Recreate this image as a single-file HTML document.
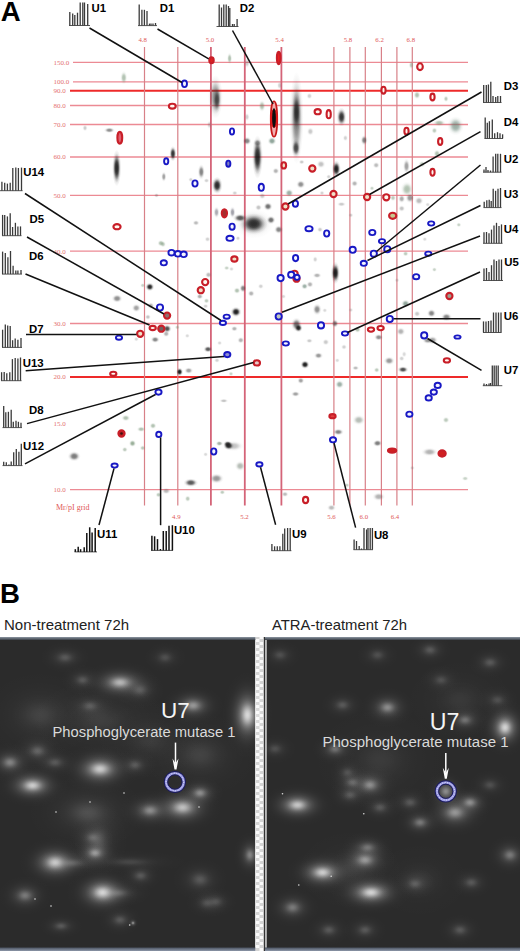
<!DOCTYPE html><html><head><meta charset="utf-8"><style>
html,body{margin:0;padding:0;background:#fff;}body{width:520px;height:951px;overflow:hidden;position:relative;font-family:"Liberation Sans",sans-serif;}
svg{position:absolute;left:0;top:0;}
</style></head><body>
<svg width="520" height="951" viewBox="0 0 520 951">
<defs>
<filter id="b1" x="-100%" y="-100%" width="300%" height="300%"><feGaussianBlur stdDeviation="0.7"/></filter>
<filter id="bh" x="-100%" y="-100%" width="300%" height="300%"><feGaussianBlur stdDeviation="1.6"/></filter>
<filter id="b2" x="-100%" y="-100%" width="300%" height="300%"><feGaussianBlur stdDeviation="3"/></filter>
<filter id="b3" x="-100%" y="-100%" width="300%" height="300%"><feGaussianBlur stdDeviation="6"/></filter>
<pattern id="chk" width="8" height="6" patternUnits="userSpaceOnUse" x="255.5" y="0"><rect width="8" height="6" fill="#fafafa"/><rect x="0" y="0" width="4" height="3" fill="#d4d4d4"/><rect x="4" y="3" width="4" height="3" fill="#d4d4d4"/></pattern>
</defs>
<text x="0.8" y="21.2" font-family="Liberation Sans" font-weight="bold" font-size="27.6" fill="#000">A</text>
<g font-family="Liberation Sans"><line x1="73" y1="62.3" x2="468" y2="62.3" stroke="#ec8a94" stroke-width="1.3"/><text x="53.6" y="64.7" font-size="7" font-family="Liberation Serif" fill="#e47070">150.0</text><line x1="73" y1="81.8" x2="468" y2="81.8" stroke="#ec8a94" stroke-width="1.3"/><text x="53.6" y="84.2" font-size="7" font-family="Liberation Serif" fill="#e47070">100.0</text><line x1="70" y1="90.8" x2="468" y2="90.8" stroke="#ee2a2a" stroke-width="2"/><text x="53.6" y="93.2" font-size="7" font-family="Liberation Serif" fill="#e47070">90.0</text><line x1="70" y1="105.5" x2="468" y2="105.5" stroke="#ec8a94" stroke-width="1.3"/><text x="53.6" y="107.9" font-size="7" font-family="Liberation Serif" fill="#e47070">80.0</text><line x1="70" y1="124.5" x2="468" y2="124.5" stroke="#ec8a94" stroke-width="1.3"/><text x="53.6" y="126.9" font-size="7" font-family="Liberation Serif" fill="#e47070">70.0</text><line x1="70" y1="157.0" x2="468" y2="157.0" stroke="#ec8a94" stroke-width="1.3"/><text x="53.6" y="159.4" font-size="7" font-family="Liberation Serif" fill="#e47070">60.0</text><line x1="70" y1="195.4" x2="468" y2="195.4" stroke="#ec8a94" stroke-width="1.3"/><text x="53.6" y="197.8" font-size="7" font-family="Liberation Serif" fill="#e47070">50.0</text><line x1="70" y1="251.2" x2="468" y2="251.2" stroke="#ec8a94" stroke-width="1.3"/><text x="53.6" y="253.6" font-size="7" font-family="Liberation Serif" fill="#e47070">40.0</text><line x1="70" y1="323.5" x2="468" y2="323.5" stroke="#ec8a94" stroke-width="1.3"/><text x="53.6" y="325.9" font-size="7" font-family="Liberation Serif" fill="#e47070">30.0</text><line x1="70" y1="377.0" x2="468" y2="377.0" stroke="#ee2a2a" stroke-width="2"/><text x="53.6" y="379.4" font-size="7" font-family="Liberation Serif" fill="#e47070">20.0</text><line x1="70" y1="489.6" x2="468" y2="489.6" stroke="#ec8a94" stroke-width="1.3"/><text x="53.6" y="492.0" font-size="7" font-family="Liberation Serif" fill="#e47070">10.0</text><line x1="144.5" y1="47" x2="144.5" y2="505.5" stroke="#d88088" stroke-width="1.2"/><line x1="177.8" y1="47" x2="177.8" y2="505.5" stroke="#d88088" stroke-width="1.2"/><line x1="210.9" y1="47" x2="210.9" y2="505.5" stroke="#d46478" stroke-width="1.8"/><line x1="244.8" y1="47" x2="244.8" y2="505.5" stroke="#d46478" stroke-width="1.8"/><line x1="281.4" y1="47" x2="281.4" y2="505.5" stroke="#d46478" stroke-width="1.8"/><line x1="333.9" y1="47" x2="333.9" y2="505.5" stroke="#d88088" stroke-width="1.2"/><line x1="349.9" y1="47" x2="349.9" y2="505.5" stroke="#d88088" stroke-width="1.2"/><line x1="365.3" y1="47" x2="365.3" y2="505.5" stroke="#d88088" stroke-width="1.2"/><line x1="381.4" y1="47" x2="381.4" y2="505.5" stroke="#d88088" stroke-width="1.2"/><line x1="396.9" y1="47" x2="396.9" y2="505.5" stroke="#d88088" stroke-width="1.2"/><line x1="412.3" y1="47" x2="412.3" y2="505.5" stroke="#d88088" stroke-width="1.2"/><text x="142.7" y="41.8" text-anchor="middle" font-size="6.8" font-family="Liberation Serif" fill="#e05858">4.8</text><text x="210" y="41.8" text-anchor="middle" font-size="6.8" font-family="Liberation Serif" fill="#e05858">5.0</text><text x="279.6" y="41.8" text-anchor="middle" font-size="6.8" font-family="Liberation Serif" fill="#e05858">5.4</text><text x="348" y="41.8" text-anchor="middle" font-size="6.8" font-family="Liberation Serif" fill="#e05858">5.8</text><text x="379.6" y="41.8" text-anchor="middle" font-size="6.8" font-family="Liberation Serif" fill="#e05858">6.2</text><text x="410.8" y="41.8" text-anchor="middle" font-size="6.8" font-family="Liberation Serif" fill="#e05858">6.8</text><text x="176.3" y="519.4" text-anchor="middle" font-size="6.8" font-family="Liberation Serif" fill="#e05858">4.9</text><text x="244.5" y="519.4" text-anchor="middle" font-size="6.8" font-family="Liberation Serif" fill="#e05858">5.2</text><text x="331.5" y="519.4" text-anchor="middle" font-size="6.8" font-family="Liberation Serif" fill="#e05858">5.6</text><text x="363.8" y="519.4" text-anchor="middle" font-size="6.8" font-family="Liberation Serif" fill="#e05858">6.0</text><text x="395" y="519.4" text-anchor="middle" font-size="6.8" font-family="Liberation Serif" fill="#e05858">6.4</text><text x="53.6" y="425.9" font-size="7" font-family="Liberation Serif" fill="#e47070">15.0</text><text x="56" y="510" font-size="8" font-family="Liberation Serif" fill="#e05858">Mr/pI grid</text></g>
<defs><radialGradient id="sg0"><stop offset="0.00" stop-color="#111" stop-opacity="1"/><stop offset="0.20" stop-color="#111" stop-opacity="0.97"/><stop offset="0.35" stop-color="#111" stop-opacity="0.86"/><stop offset="0.50" stop-color="#111" stop-opacity="0.58"/><stop offset="0.65" stop-color="#111" stop-opacity="0.27"/><stop offset="0.80" stop-color="#111" stop-opacity="0.09"/><stop offset="1.00" stop-color="#111" stop-opacity="0"/></radialGradient><radialGradient id="sg1"><stop offset="0.00" stop-color="#222" stop-opacity="1"/><stop offset="0.20" stop-color="#222" stop-opacity="0.97"/><stop offset="0.35" stop-color="#222" stop-opacity="0.86"/><stop offset="0.50" stop-color="#222" stop-opacity="0.58"/><stop offset="0.65" stop-color="#222" stop-opacity="0.27"/><stop offset="0.80" stop-color="#222" stop-opacity="0.09"/><stop offset="1.00" stop-color="#222" stop-opacity="0"/></radialGradient><radialGradient id="sg2"><stop offset="0.00" stop-color="#333" stop-opacity="1"/><stop offset="0.20" stop-color="#333" stop-opacity="0.97"/><stop offset="0.35" stop-color="#333" stop-opacity="0.86"/><stop offset="0.50" stop-color="#333" stop-opacity="0.58"/><stop offset="0.65" stop-color="#333" stop-opacity="0.27"/><stop offset="0.80" stop-color="#333" stop-opacity="0.09"/><stop offset="1.00" stop-color="#333" stop-opacity="0"/></radialGradient><radialGradient id="sg3"><stop offset="0.00" stop-color="#444" stop-opacity="1"/><stop offset="0.20" stop-color="#444" stop-opacity="0.97"/><stop offset="0.35" stop-color="#444" stop-opacity="0.86"/><stop offset="0.50" stop-color="#444" stop-opacity="0.58"/><stop offset="0.65" stop-color="#444" stop-opacity="0.27"/><stop offset="0.80" stop-color="#444" stop-opacity="0.09"/><stop offset="1.00" stop-color="#444" stop-opacity="0"/></radialGradient><radialGradient id="sg4"><stop offset="0.00" stop-color="#445" stop-opacity="1"/><stop offset="0.20" stop-color="#445" stop-opacity="0.97"/><stop offset="0.35" stop-color="#445" stop-opacity="0.86"/><stop offset="0.50" stop-color="#445" stop-opacity="0.58"/><stop offset="0.65" stop-color="#445" stop-opacity="0.27"/><stop offset="0.80" stop-color="#445" stop-opacity="0.09"/><stop offset="1.00" stop-color="#445" stop-opacity="0"/></radialGradient><radialGradient id="sg5"><stop offset="0.00" stop-color="#555" stop-opacity="1"/><stop offset="0.20" stop-color="#555" stop-opacity="0.97"/><stop offset="0.35" stop-color="#555" stop-opacity="0.86"/><stop offset="0.50" stop-color="#555" stop-opacity="0.58"/><stop offset="0.65" stop-color="#555" stop-opacity="0.27"/><stop offset="0.80" stop-color="#555" stop-opacity="0.09"/><stop offset="1.00" stop-color="#555" stop-opacity="0"/></radialGradient><radialGradient id="sg6"><stop offset="0.00" stop-color="#5a6a5a" stop-opacity="1"/><stop offset="0.20" stop-color="#5a6a5a" stop-opacity="0.97"/><stop offset="0.35" stop-color="#5a6a5a" stop-opacity="0.86"/><stop offset="0.50" stop-color="#5a6a5a" stop-opacity="0.58"/><stop offset="0.65" stop-color="#5a6a5a" stop-opacity="0.27"/><stop offset="0.80" stop-color="#5a6a5a" stop-opacity="0.09"/><stop offset="1.00" stop-color="#5a6a5a" stop-opacity="0"/></radialGradient><radialGradient id="sg7"><stop offset="0.00" stop-color="#5a7a6a" stop-opacity="1"/><stop offset="0.20" stop-color="#5a7a6a" stop-opacity="0.97"/><stop offset="0.35" stop-color="#5a7a6a" stop-opacity="0.86"/><stop offset="0.50" stop-color="#5a7a6a" stop-opacity="0.58"/><stop offset="0.65" stop-color="#5a7a6a" stop-opacity="0.27"/><stop offset="0.80" stop-color="#5a7a6a" stop-opacity="0.09"/><stop offset="1.00" stop-color="#5a7a6a" stop-opacity="0"/></radialGradient><radialGradient id="sg8"><stop offset="0.00" stop-color="#666" stop-opacity="1"/><stop offset="0.20" stop-color="#666" stop-opacity="0.97"/><stop offset="0.35" stop-color="#666" stop-opacity="0.86"/><stop offset="0.50" stop-color="#666" stop-opacity="0.58"/><stop offset="0.65" stop-color="#666" stop-opacity="0.27"/><stop offset="0.80" stop-color="#666" stop-opacity="0.09"/><stop offset="1.00" stop-color="#666" stop-opacity="0"/></radialGradient><radialGradient id="sg9"><stop offset="0.00" stop-color="#6a8a6a" stop-opacity="1"/><stop offset="0.20" stop-color="#6a8a6a" stop-opacity="0.97"/><stop offset="0.35" stop-color="#6a8a6a" stop-opacity="0.86"/><stop offset="0.50" stop-color="#6a8a6a" stop-opacity="0.58"/><stop offset="0.65" stop-color="#6a8a6a" stop-opacity="0.27"/><stop offset="0.80" stop-color="#6a8a6a" stop-opacity="0.09"/><stop offset="1.00" stop-color="#6a8a6a" stop-opacity="0"/></radialGradient></defs>
<g><ellipse cx="123.8" cy="77.7" rx="3.6" ry="6.9" fill="url(#sg9)" opacity="0.52"/><ellipse cx="85" cy="128" rx="2.7" ry="3.4" fill="url(#sg5)" opacity="0.30"/><ellipse cx="109.4" cy="130.2" rx="5.5" ry="2.9" fill="url(#sg3)" opacity="0.60"/><ellipse cx="215.5" cy="97" rx="7.4" ry="21.8" fill="url(#sg2)" opacity="0.55"/><ellipse cx="217" cy="100" rx="4.2" ry="13.1" fill="url(#sg0)" opacity="0.60"/><ellipse cx="229.6" cy="58.5" rx="2.7" ry="6.0" fill="url(#sg9)" opacity="0.52"/><ellipse cx="247" cy="63" rx="3.1" ry="5.2" fill="url(#sg5)" opacity="0.30"/><ellipse cx="262" cy="106" rx="3.6" ry="6.0" fill="url(#sg9)" opacity="0.52"/><ellipse cx="247" cy="117" rx="2.7" ry="4.3" fill="url(#sg8)" opacity="0.30"/><ellipse cx="209.4" cy="124.8" rx="2.7" ry="4.3" fill="url(#sg8)" opacity="0.30"/><ellipse cx="247" cy="141" rx="4.6" ry="4.3" fill="url(#sg2)" opacity="0.60"/><ellipse cx="257.5" cy="143" rx="4.6" ry="4.3" fill="url(#sg2)" opacity="0.50"/><ellipse cx="296.5" cy="118" rx="7.1" ry="46.3" fill="url(#sg2)" opacity="0.60"/><ellipse cx="296.5" cy="112" rx="4.6" ry="20.1" fill="url(#sg0)" opacity="0.75"/><ellipse cx="341.5" cy="117" rx="5.0" ry="9.6" fill="url(#sg0)" opacity="0.85"/><ellipse cx="309.4" cy="96" rx="3.1" ry="3.4" fill="url(#sg8)" opacity="0.30"/><ellipse cx="310.4" cy="131.5" rx="3.6" ry="4.3" fill="url(#sg8)" opacity="0.35"/><ellipse cx="364.2" cy="140.2" rx="3.6" ry="5.2" fill="url(#sg2)" opacity="0.60"/><ellipse cx="345.4" cy="138" rx="2.7" ry="3.4" fill="url(#sg8)" opacity="0.30"/><ellipse cx="279.6" cy="85.4" rx="2.7" ry="4.3" fill="url(#sg8)" opacity="0.30"/><ellipse cx="272" cy="141" rx="4.6" ry="4.3" fill="url(#sg7)" opacity="0.68"/><ellipse cx="411.3" cy="65" rx="2.7" ry="4.3" fill="url(#sg9)" opacity="0.45"/><ellipse cx="417" cy="95" rx="3.6" ry="4.3" fill="url(#sg9)" opacity="0.52"/><ellipse cx="446" cy="98.8" rx="2.7" ry="3.4" fill="url(#sg9)" opacity="0.45"/><ellipse cx="439.2" cy="122.9" rx="6.5" ry="3.4" fill="url(#sg9)" opacity="0.52"/><ellipse cx="455.6" cy="125.8" rx="8.4" ry="9.6" fill="url(#sg7)" opacity="0.60"/><ellipse cx="434.4" cy="130.6" rx="3.1" ry="3.4" fill="url(#sg9)" opacity="0.45"/><ellipse cx="116.7" cy="168" rx="4.6" ry="18.3" fill="url(#sg0)" opacity="0.90"/><ellipse cx="163.8" cy="176.7" rx="2.7" ry="5.2" fill="url(#sg3)" opacity="0.50"/><ellipse cx="156.5" cy="195.4" rx="2.7" ry="2.5" fill="url(#sg5)" opacity="0.30"/><ellipse cx="172.9" cy="153.7" rx="3.6" ry="7.8" fill="url(#sg0)" opacity="0.85"/><ellipse cx="257.5" cy="157" rx="5.5" ry="21.8" fill="url(#sg0)" opacity="0.90"/><ellipse cx="201.3" cy="171.9" rx="3.6" ry="7.8" fill="url(#sg2)" opacity="0.60"/><ellipse cx="217.1" cy="185.4" rx="5.5" ry="8.7" fill="url(#sg0)" opacity="0.90"/><ellipse cx="206.5" cy="180.6" rx="3.1" ry="2.5" fill="url(#sg8)" opacity="0.30"/><ellipse cx="190.8" cy="179.6" rx="2.7" ry="2.5" fill="url(#sg8)" opacity="0.30"/><ellipse cx="234.8" cy="193" rx="3.1" ry="2.5" fill="url(#sg8)" opacity="0.30"/><ellipse cx="262.3" cy="196" rx="3.6" ry="3.4" fill="url(#sg8)" opacity="0.35"/><ellipse cx="216.5" cy="212.3" rx="3.1" ry="6.0" fill="url(#sg4)" opacity="0.45"/><ellipse cx="232.5" cy="212.3" rx="3.1" ry="6.0" fill="url(#sg4)" opacity="0.50"/><ellipse cx="240.2" cy="218" rx="7.4" ry="4.3" fill="url(#sg1)" opacity="0.75"/><ellipse cx="253.7" cy="223.8" rx="14.1" ry="10.4" fill="url(#sg0)" opacity="0.95"/><ellipse cx="253.7" cy="223.8" rx="19.8" ry="14.8" fill="url(#sg5)" opacity="0.30"/><ellipse cx="196" cy="222.9" rx="3.6" ry="2.9" fill="url(#sg5)" opacity="0.40"/><ellipse cx="207.5" cy="239.2" rx="3.1" ry="2.9" fill="url(#sg8)" opacity="0.30"/><ellipse cx="258.5" cy="207.5" rx="3.6" ry="3.4" fill="url(#sg5)" opacity="0.35"/><ellipse cx="268" cy="206.5" rx="4.6" ry="4.3" fill="url(#sg2)" opacity="0.70"/><ellipse cx="238" cy="238.3" rx="2.7" ry="2.5" fill="url(#sg8)" opacity="0.30"/><ellipse cx="296" cy="148" rx="4.6" ry="9.6" fill="url(#sg1)" opacity="0.80"/><ellipse cx="301.7" cy="162" rx="3.1" ry="2.5" fill="url(#sg8)" opacity="0.35"/><ellipse cx="321" cy="164.2" rx="4.6" ry="4.3" fill="url(#sg8)" opacity="0.40"/><ellipse cx="275.8" cy="171" rx="3.6" ry="3.4" fill="url(#sg5)" opacity="0.45"/><ellipse cx="300.8" cy="184.4" rx="4.6" ry="4.3" fill="url(#sg3)" opacity="0.60"/><ellipse cx="328.7" cy="176.7" rx="2.7" ry="2.5" fill="url(#sg8)" opacity="0.30"/><ellipse cx="354.6" cy="183.5" rx="3.6" ry="3.4" fill="url(#sg5)" opacity="0.45"/><ellipse cx="289.2" cy="193" rx="4.6" ry="4.3" fill="url(#sg7)" opacity="0.60"/><ellipse cx="322" cy="193" rx="2.7" ry="2.5" fill="url(#sg8)" opacity="0.30"/><ellipse cx="336.3" cy="169" rx="4.6" ry="8.7" fill="url(#sg0)" opacity="0.95"/><ellipse cx="271" cy="220" rx="4.6" ry="4.3" fill="url(#sg2)" opacity="0.70"/><ellipse cx="341.5" cy="204.2" rx="4.6" ry="2.5" fill="url(#sg8)" opacity="0.35"/><ellipse cx="350.8" cy="215.2" rx="2.7" ry="2.5" fill="url(#sg8)" opacity="0.30"/><ellipse cx="278.7" cy="229.6" rx="4.6" ry="4.3" fill="url(#sg2)" opacity="0.60"/><ellipse cx="320" cy="229.6" rx="3.1" ry="2.9" fill="url(#sg8)" opacity="0.35"/><ellipse cx="376.2" cy="165.2" rx="3.6" ry="3.4" fill="url(#sg5)" opacity="0.40"/><ellipse cx="406.5" cy="166.2" rx="3.6" ry="7.8" fill="url(#sg3)" opacity="0.50"/><ellipse cx="422" cy="164.2" rx="3.6" ry="3.4" fill="url(#sg9)" opacity="0.45"/><ellipse cx="437" cy="153.7" rx="3.6" ry="4.3" fill="url(#sg9)" opacity="0.52"/><ellipse cx="407" cy="189.2" rx="6.5" ry="7.8" fill="url(#sg9)" opacity="0.52"/><ellipse cx="401.7" cy="198.8" rx="3.6" ry="4.3" fill="url(#sg3)" opacity="0.45"/><ellipse cx="410" cy="197.9" rx="4.6" ry="5.2" fill="url(#sg2)" opacity="0.50"/><ellipse cx="419" cy="200.8" rx="4.6" ry="4.3" fill="url(#sg5)" opacity="0.40"/><ellipse cx="401.7" cy="208.5" rx="3.6" ry="3.4" fill="url(#sg5)" opacity="0.35"/><ellipse cx="393" cy="197.9" rx="3.1" ry="3.4" fill="url(#sg9)" opacity="0.45"/><ellipse cx="427.7" cy="204.6" rx="2.7" ry="2.5" fill="url(#sg8)" opacity="0.25"/><ellipse cx="458.8" cy="224.8" rx="2.7" ry="2.5" fill="url(#sg9)" opacity="0.38"/><ellipse cx="424.8" cy="239.2" rx="2.7" ry="2.5" fill="url(#sg8)" opacity="0.25"/><ellipse cx="372" cy="188.3" rx="2.7" ry="2.5" fill="url(#sg9)" opacity="0.38"/><ellipse cx="149.8" cy="286.9" rx="4.6" ry="4.3" fill="url(#sg0)" opacity="0.90"/><ellipse cx="117.1" cy="298.5" rx="5.5" ry="4.3" fill="url(#sg3)" opacity="0.60"/><ellipse cx="136.3" cy="308" rx="4.6" ry="4.3" fill="url(#sg3)" opacity="0.50"/><ellipse cx="150.8" cy="305.6" rx="3.6" ry="3.4" fill="url(#sg5)" opacity="0.45"/><ellipse cx="142.7" cy="285.4" rx="2.7" ry="2.5" fill="url(#sg9)" opacity="0.38"/><ellipse cx="147.9" cy="317" rx="3.1" ry="2.9" fill="url(#sg5)" opacity="0.35"/><ellipse cx="167.1" cy="328.7" rx="4.6" ry="4.3" fill="url(#sg1)" opacity="0.80"/><ellipse cx="155.2" cy="339.6" rx="4.6" ry="3.4" fill="url(#sg2)" opacity="0.60"/><ellipse cx="166.2" cy="333.8" rx="3.6" ry="3.4" fill="url(#sg5)" opacity="0.45"/><ellipse cx="136.3" cy="339.2" rx="2.7" ry="2.5" fill="url(#sg8)" opacity="0.25"/><ellipse cx="160.9" cy="243.2" rx="3.6" ry="3.4" fill="url(#sg9)" opacity="0.52"/><ellipse cx="163" cy="244.2" rx="3.1" ry="3.4" fill="url(#sg9)" opacity="0.45"/><ellipse cx="236" cy="311.9" rx="5.5" ry="5.2" fill="url(#sg0)" opacity="0.95"/><ellipse cx="208.5" cy="274.8" rx="3.6" ry="3.4" fill="url(#sg5)" opacity="0.40"/><ellipse cx="226.7" cy="268" rx="3.1" ry="2.5" fill="url(#sg9)" opacity="0.38"/><ellipse cx="231.5" cy="269" rx="2.7" ry="2.5" fill="url(#sg8)" opacity="0.25"/><ellipse cx="243" cy="288.3" rx="3.6" ry="4.3" fill="url(#sg2)" opacity="0.60"/><ellipse cx="237" cy="290.6" rx="3.6" ry="3.4" fill="url(#sg9)" opacity="0.52"/><ellipse cx="251.2" cy="293.5" rx="3.6" ry="3.4" fill="url(#sg5)" opacity="0.45"/><ellipse cx="260.8" cy="286.3" rx="3.1" ry="2.9" fill="url(#sg8)" opacity="0.30"/><ellipse cx="199.8" cy="296.5" rx="3.6" ry="2.9" fill="url(#sg3)" opacity="0.45"/><ellipse cx="206.5" cy="300.8" rx="3.1" ry="2.9" fill="url(#sg9)" opacity="0.45"/><ellipse cx="205.6" cy="306.2" rx="3.1" ry="2.5" fill="url(#sg8)" opacity="0.30"/><ellipse cx="234.4" cy="328.7" rx="3.6" ry="2.9" fill="url(#sg5)" opacity="0.45"/><ellipse cx="240.8" cy="340.2" rx="3.6" ry="3.4" fill="url(#sg5)" opacity="0.45"/><ellipse cx="187.3" cy="335.8" rx="2.7" ry="2.5" fill="url(#sg8)" opacity="0.25"/><ellipse cx="177.3" cy="327.3" rx="2.7" ry="2.5" fill="url(#sg9)" opacity="0.38"/><ellipse cx="219.6" cy="343" rx="2.7" ry="2.5" fill="url(#sg8)" opacity="0.25"/><ellipse cx="335.4" cy="272.9" rx="4.6" ry="11.3" fill="url(#sg0)" opacity="0.95"/><ellipse cx="315.2" cy="259.4" rx="2.7" ry="3.4" fill="url(#sg8)" opacity="0.30"/><ellipse cx="317.1" cy="275.4" rx="4.6" ry="2.9" fill="url(#sg5)" opacity="0.45"/><ellipse cx="304.6" cy="286.3" rx="3.6" ry="3.4" fill="url(#sg7)" opacity="0.60"/><ellipse cx="310" cy="284.4" rx="3.6" ry="3.4" fill="url(#sg5)" opacity="0.45"/><ellipse cx="283.5" cy="296.5" rx="2.7" ry="2.5" fill="url(#sg8)" opacity="0.25"/><ellipse cx="317.1" cy="309.4" rx="4.6" ry="6.0" fill="url(#sg3)" opacity="0.60"/><ellipse cx="324.8" cy="310.4" rx="2.7" ry="2.5" fill="url(#sg8)" opacity="0.25"/><ellipse cx="335" cy="323.5" rx="3.6" ry="4.3" fill="url(#sg2)" opacity="0.60"/><ellipse cx="350.8" cy="310" rx="2.7" ry="2.5" fill="url(#sg8)" opacity="0.25"/><ellipse cx="357.5" cy="329.6" rx="3.6" ry="3.4" fill="url(#sg9)" opacity="0.52"/><ellipse cx="309.4" cy="340.8" rx="3.6" ry="2.5" fill="url(#sg8)" opacity="0.35"/><ellipse cx="325.8" cy="342.1" rx="3.6" ry="3.4" fill="url(#sg8)" opacity="0.35"/><ellipse cx="296.5" cy="324.5" rx="5.5" ry="6.9" fill="url(#sg2)" opacity="0.70"/><ellipse cx="298.5" cy="328" rx="4.2" ry="4.3" fill="url(#sg0)" opacity="0.90"/><ellipse cx="405.6" cy="253.7" rx="3.1" ry="2.9" fill="url(#sg9)" opacity="0.45"/><ellipse cx="434.4" cy="269.6" rx="2.7" ry="2.5" fill="url(#sg9)" opacity="0.38"/><ellipse cx="397" cy="280.2" rx="2.7" ry="2.5" fill="url(#sg8)" opacity="0.25"/><ellipse cx="405.6" cy="303.7" rx="4.6" ry="4.3" fill="url(#sg7)" opacity="0.68"/><ellipse cx="417.1" cy="313.8" rx="3.6" ry="3.4" fill="url(#sg8)" opacity="0.35"/><ellipse cx="431.5" cy="313.3" rx="4.6" ry="4.3" fill="url(#sg2)" opacity="0.60"/><ellipse cx="446.5" cy="317.1" rx="5.5" ry="4.3" fill="url(#sg2)" opacity="0.60"/><ellipse cx="400.8" cy="331.5" rx="4.6" ry="4.3" fill="url(#sg5)" opacity="0.45"/><ellipse cx="378.7" cy="337.3" rx="4.6" ry="3.4" fill="url(#sg2)" opacity="0.55"/><ellipse cx="432.5" cy="340.2" rx="5.5" ry="4.3" fill="url(#sg3)" opacity="0.50"/><ellipse cx="125.8" cy="418" rx="4.6" ry="3.4" fill="url(#sg9)" opacity="0.52"/><ellipse cx="153" cy="425.8" rx="3.6" ry="3.4" fill="url(#sg9)" opacity="0.52"/><ellipse cx="141.2" cy="429.2" rx="4.6" ry="2.9" fill="url(#sg9)" opacity="0.52"/><ellipse cx="132.5" cy="443" rx="3.6" ry="3.4" fill="url(#sg9)" opacity="0.45"/><ellipse cx="208" cy="349.2" rx="4.6" ry="3.4" fill="url(#sg1)" opacity="0.75"/><ellipse cx="179.6" cy="371.9" rx="3.6" ry="4.3" fill="url(#sg0)" opacity="0.95"/><ellipse cx="188.7" cy="370.6" rx="4.6" ry="3.4" fill="url(#sg3)" opacity="0.50"/><ellipse cx="217" cy="360.4" rx="3.1" ry="2.5" fill="url(#sg8)" opacity="0.30"/><ellipse cx="223.8" cy="400.8" rx="4.6" ry="2.2" fill="url(#sg5)" opacity="0.35"/><ellipse cx="227.7" cy="444" rx="4.6" ry="3.4" fill="url(#sg0)" opacity="0.80"/><ellipse cx="219" cy="443.5" rx="3.6" ry="2.9" fill="url(#sg9)" opacity="0.45"/><ellipse cx="231" cy="373.8" rx="2.7" ry="2.5" fill="url(#sg9)" opacity="0.38"/><ellipse cx="305" cy="364.6" rx="4.6" ry="4.3" fill="url(#sg0)" opacity="0.95"/><ellipse cx="318.5" cy="355.6" rx="4.6" ry="3.4" fill="url(#sg3)" opacity="0.55"/><ellipse cx="344" cy="347" rx="3.1" ry="2.9" fill="url(#sg8)" opacity="0.30"/><ellipse cx="337.3" cy="360.4" rx="2.7" ry="2.5" fill="url(#sg8)" opacity="0.25"/><ellipse cx="355.6" cy="368" rx="3.6" ry="2.5" fill="url(#sg5)" opacity="0.40"/><ellipse cx="300.8" cy="380.6" rx="3.6" ry="3.4" fill="url(#sg3)" opacity="0.50"/><ellipse cx="339.6" cy="384.4" rx="4.6" ry="4.3" fill="url(#sg7)" opacity="0.60"/><ellipse cx="295.6" cy="394" rx="4.6" ry="2.9" fill="url(#sg3)" opacity="0.50"/><ellipse cx="358.8" cy="420" rx="6.5" ry="5.2" fill="url(#sg6)" opacity="0.45"/><ellipse cx="338.3" cy="432" rx="5.5" ry="3.4" fill="url(#sg2)" opacity="0.60"/><ellipse cx="389.2" cy="360.8" rx="5.5" ry="4.3" fill="url(#sg3)" opacity="0.55"/><ellipse cx="401.7" cy="358.5" rx="3.1" ry="2.9" fill="url(#sg8)" opacity="0.30"/><ellipse cx="404.2" cy="354.2" rx="2.7" ry="3.4" fill="url(#sg8)" opacity="0.25"/><ellipse cx="403" cy="369.6" rx="5.5" ry="3.4" fill="url(#sg1)" opacity="0.80"/><ellipse cx="376.7" cy="370" rx="3.1" ry="2.9" fill="url(#sg9)" opacity="0.45"/><ellipse cx="446" cy="420" rx="3.6" ry="3.4" fill="url(#sg9)" opacity="0.45"/><ellipse cx="377.7" cy="443" rx="4.6" ry="3.4" fill="url(#sg3)" opacity="0.45"/><ellipse cx="427.7" cy="340.5" rx="5.5" ry="3.4" fill="url(#sg2)" opacity="0.50"/><ellipse cx="74.2" cy="456.3" rx="6.5" ry="5.2" fill="url(#sg2)" opacity="0.65"/><ellipse cx="132.5" cy="443.8" rx="3.6" ry="3.4" fill="url(#sg9)" opacity="0.45"/><ellipse cx="124.8" cy="449.6" rx="3.1" ry="2.9" fill="url(#sg9)" opacity="0.45"/><ellipse cx="142.7" cy="448" rx="3.1" ry="2.9" fill="url(#sg9)" opacity="0.45"/><ellipse cx="158.5" cy="494.8" rx="3.1" ry="2.9" fill="url(#sg9)" opacity="0.45"/><ellipse cx="166.2" cy="491" rx="4.6" ry="3.4" fill="url(#sg5)" opacity="0.40"/><ellipse cx="228.7" cy="445.8" rx="5.5" ry="4.3" fill="url(#sg0)" opacity="0.95"/><ellipse cx="233.5" cy="446" rx="10.3" ry="5.2" fill="url(#sg5)" opacity="0.35"/><ellipse cx="220" cy="443.5" rx="3.6" ry="2.5" fill="url(#sg8)" opacity="0.30"/><ellipse cx="205.6" cy="454.4" rx="2.7" ry="2.5" fill="url(#sg8)" opacity="0.25"/><ellipse cx="240.2" cy="466" rx="5.5" ry="5.2" fill="url(#sg6)" opacity="0.45"/><ellipse cx="190.8" cy="482.7" rx="7.4" ry="4.3" fill="url(#sg1)" opacity="0.75"/><ellipse cx="216.5" cy="478.5" rx="7.4" ry="5.2" fill="url(#sg3)" opacity="0.55"/><ellipse cx="222.3" cy="492.3" rx="3.1" ry="2.5" fill="url(#sg9)" opacity="0.45"/><ellipse cx="187.7" cy="498.7" rx="3.1" ry="3.4" fill="url(#sg9)" opacity="0.45"/><ellipse cx="285" cy="494.2" rx="3.6" ry="2.9" fill="url(#sg5)" opacity="0.40"/><ellipse cx="331.5" cy="507.7" rx="4.6" ry="3.4" fill="url(#sg5)" opacity="0.40"/><ellipse cx="347" cy="485.2" rx="2.7" ry="2.5" fill="url(#sg9)" opacity="0.38"/><ellipse cx="429.6" cy="452" rx="8.4" ry="4.3" fill="url(#sg5)" opacity="0.45"/><ellipse cx="442.1" cy="453.5" rx="4.6" ry="4.3" fill="url(#sg3)" opacity="0.60"/><ellipse cx="377.3" cy="443.5" rx="4.6" ry="3.4" fill="url(#sg3)" opacity="0.45"/><ellipse cx="378.7" cy="496.7" rx="6.5" ry="4.3" fill="url(#sg5)" opacity="0.45"/><ellipse cx="412.3" cy="467.9" rx="2.7" ry="2.5" fill="url(#sg8)" opacity="0.25"/><ellipse cx="465.2" cy="478.5" rx="3.6" ry="2.5" fill="url(#sg9)" opacity="0.38"/></g>
<g><ellipse cx="119.8" cy="137.7" rx="2.4" ry="5.9" fill="#e06070" stroke="#c81e28" stroke-width="2.1"/><ellipse cx="211.5" cy="60.3" rx="2.2" ry="3.0" fill="#e02020" stroke="#c81e28" stroke-width="2.1"/><ellipse cx="172.3" cy="106.2" rx="3.4" ry="2.4" fill="#fff8f0" stroke="#c81e28" stroke-width="2.1"/><ellipse cx="278.7" cy="58" rx="1.8" ry="6.2" fill="#e82020" stroke="#c81e28" stroke-width="2.1"/><ellipse cx="317.7" cy="111.7" rx="3.1" ry="2.6" fill="#fff8f0" stroke="#c81e28" stroke-width="2.1"/><ellipse cx="328.7" cy="114.2" rx="2.1" ry="4.1" fill="#fff8f0" stroke="#c81e28" stroke-width="2.1"/><ellipse cx="420" cy="66.7" rx="2.8" ry="3.4" fill="#fff8f0" stroke="#c81e28" stroke-width="2.1"/><ellipse cx="383.5" cy="90.2" rx="2.1" ry="3.4" fill="#fff8f0" stroke="#c81e28" stroke-width="2.1"/><ellipse cx="432.5" cy="97" rx="2.1" ry="3.4" fill="#fff8f0" stroke="#c81e28" stroke-width="2.1"/><ellipse cx="406.5" cy="131.2" rx="2.1" ry="3.4" fill="#fff8f0" stroke="#c81e28" stroke-width="2.1"/><ellipse cx="440.2" cy="141.5" rx="2.1" ry="3.4" fill="#fff8f0" stroke="#c81e28" stroke-width="2.1"/><ellipse cx="117" cy="226.7" rx="3.6" ry="2.6" fill="#fff8f0" stroke="#c81e28" stroke-width="2.1"/><ellipse cx="224.4" cy="213.3" rx="2.6" ry="4.1" fill="#a03030" stroke="#c81e28" stroke-width="2.1"/><ellipse cx="283.8" cy="165.4" rx="2.3" ry="3.1" fill="#f0e0c8" stroke="#c81e28" stroke-width="2.1"/><ellipse cx="312.3" cy="168.5" rx="3.1" ry="3.1" fill="#f0e0c8" stroke="#c81e28" stroke-width="2.1"/><ellipse cx="333.5" cy="194" rx="3.1" ry="3.1" fill="#f0e0c8" stroke="#c81e28" stroke-width="2.1"/><ellipse cx="367.1" cy="197" rx="3.1" ry="3.1" fill="#f0e0c8" stroke="#c81e28" stroke-width="2.1"/><ellipse cx="285.4" cy="206.5" rx="3.1" ry="3.1" fill="#f0e0c8" stroke="#c81e28" stroke-width="2.1"/><ellipse cx="432.5" cy="172.3" rx="2.1" ry="3.4" fill="#fff8f0" stroke="#c81e28" stroke-width="2.1"/><ellipse cx="386.3" cy="197.3" rx="3.1" ry="3.1" fill="#fff8f0" stroke="#c81e28" stroke-width="2.1"/><ellipse cx="392.7" cy="215.8" rx="3.6" ry="3.1" fill="#c8c890" stroke="#c81e28" stroke-width="2.1"/><ellipse cx="167.1" cy="315.6" rx="3.1" ry="3.1" fill="#907070" stroke="#c81e28" stroke-width="2.1"/><ellipse cx="152.7" cy="328" rx="3.1" ry="2.1" fill="#fff8f0" stroke="#c81e28" stroke-width="2.1"/><ellipse cx="161.3" cy="328.7" rx="3.1" ry="3.1" fill="#706060" stroke="#c81e28" stroke-width="2.1"/><ellipse cx="140.2" cy="333.8" rx="3.1" ry="3.1" fill="#f0e0c8" stroke="#c81e28" stroke-width="2.1"/><ellipse cx="234.4" cy="259" rx="3.1" ry="2.6" fill="#f0e0c8" stroke="#c81e28" stroke-width="2.1"/><ellipse cx="205.2" cy="282.1" rx="3.1" ry="3.1" fill="#fff8f0" stroke="#c81e28" stroke-width="2.1"/><ellipse cx="200.8" cy="290.2" rx="3.1" ry="3.1" fill="#f0e0c8" stroke="#c81e28" stroke-width="2.1"/><ellipse cx="294.6" cy="273.8" rx="3.1" ry="3.1" fill="#fff8f0" stroke="#c81e28" stroke-width="2.1"/><ellipse cx="296.5" cy="278.7" rx="3.1" ry="3.1" fill="#a04040" stroke="#c81e28" stroke-width="2.1"/><ellipse cx="449.4" cy="296" rx="3.1" ry="3.1" fill="#a0a090" stroke="#c81e28" stroke-width="2.1"/><ellipse cx="371" cy="329.6" rx="3.1" ry="2.1" fill="#fff8f0" stroke="#c81e28" stroke-width="2.1"/><ellipse cx="380.6" cy="328.1" rx="3.1" ry="2.1" fill="#fff8f0" stroke="#c81e28" stroke-width="2.1"/><ellipse cx="113.3" cy="373.8" rx="3.1" ry="2.1" fill="#fff8f0" stroke="#c81e28" stroke-width="2.1"/><ellipse cx="121.5" cy="433.5" rx="3.1" ry="3.1" fill="#b82020" stroke="#c81e28" stroke-width="2.1"/><ellipse cx="256.9" cy="362.9" rx="3.1" ry="2.6" fill="#e8c8c8" stroke="#c81e28" stroke-width="2.1"/><ellipse cx="332.5" cy="416.2" rx="3.1" ry="2.1" fill="#e04040" stroke="#c81e28" stroke-width="2.1"/><ellipse cx="446.9" cy="360.4" rx="3.1" ry="2.1" fill="#fff8f0" stroke="#c81e28" stroke-width="2.1"/><ellipse cx="305.6" cy="500" rx="2.6" ry="3.1" fill="#fff8f0" stroke="#c81e28" stroke-width="2.1"/><ellipse cx="392.1" cy="450.6" rx="4.1" ry="2.1" fill="#d02020" stroke="#c81e28" stroke-width="2.1"/><ellipse cx="442.1" cy="453.5" rx="3.6" ry="3.1" fill="#d02020" stroke="#c81e28" stroke-width="2.1"/><ellipse cx="184.5" cy="83.8" rx="2.5" ry="3.3" fill="#f4f4ff" stroke="#1818c4" stroke-width="1.9"/><ellipse cx="232" cy="131.5" rx="2.1" ry="3.1" fill="#f4f4ff" stroke="#1818c4" stroke-width="1.9"/><ellipse cx="166.2" cy="161.3" rx="2.1" ry="3.1" fill="#f4f4ff" stroke="#1818c4" stroke-width="1.9"/><ellipse cx="228.3" cy="163.7" rx="2.1" ry="3.1" fill="#8080c0" stroke="#1818c4" stroke-width="1.9"/><ellipse cx="195" cy="183.5" rx="2.6" ry="3.1" fill="#f4f4ff" stroke="#1818c4" stroke-width="1.9"/><ellipse cx="261.3" cy="187.3" rx="2.6" ry="3.6" fill="#f4f4ff" stroke="#1818c4" stroke-width="1.9"/><ellipse cx="232.1" cy="226.7" rx="2.6" ry="3.1" fill="#f4f4ff" stroke="#1818c4" stroke-width="1.9"/><ellipse cx="230" cy="238.3" rx="3.6" ry="2.6" fill="#f4f4ff" stroke="#1818c4" stroke-width="1.9"/><ellipse cx="295.4" cy="203.7" rx="2.6" ry="3.1" fill="#f4f4ff" stroke="#1818c4" stroke-width="1.9"/><ellipse cx="309" cy="228.7" rx="3.6" ry="2.6" fill="#f4f4ff" stroke="#1818c4" stroke-width="1.9"/><ellipse cx="326.7" cy="233.5" rx="2.6" ry="3.1" fill="#f4f4ff" stroke="#1818c4" stroke-width="1.9"/><ellipse cx="431.2" cy="223.5" rx="3.1" ry="2.1" fill="#f4f4ff" stroke="#1818c4" stroke-width="1.9"/><ellipse cx="372.3" cy="232.5" rx="3.1" ry="2.6" fill="#f4f4ff" stroke="#1818c4" stroke-width="1.9"/><ellipse cx="382" cy="241.2" rx="3.1" ry="2.1" fill="#f4f4ff" stroke="#1818c4" stroke-width="1.9"/><ellipse cx="171.5" cy="252.7" rx="3.1" ry="2.8" fill="#f4f4ff" stroke="#1818c4" stroke-width="1.9"/><ellipse cx="177.9" cy="253.8" rx="3.1" ry="2.8" fill="#f4f4ff" stroke="#1818c4" stroke-width="1.9"/><ellipse cx="183.7" cy="254.3" rx="3.1" ry="2.8" fill="#f4f4ff" stroke="#1818c4" stroke-width="1.9"/><ellipse cx="163.8" cy="262.8" rx="3.1" ry="2.6" fill="#f4f4ff" stroke="#1818c4" stroke-width="1.9"/><ellipse cx="160" cy="307.5" rx="3.1" ry="3.1" fill="#f4f4ff" stroke="#1818c4" stroke-width="1.9"/><ellipse cx="119" cy="337.7" rx="3.1" ry="2.1" fill="#f4f4ff" stroke="#1818c4" stroke-width="1.9"/><ellipse cx="226.7" cy="316.7" rx="3.1" ry="2.1" fill="#f4f4ff" stroke="#1818c4" stroke-width="1.9"/><ellipse cx="222.9" cy="322.9" rx="3.1" ry="2.1" fill="#f4f4ff" stroke="#1818c4" stroke-width="1.9"/><ellipse cx="352.7" cy="249.8" rx="3.1" ry="3.1" fill="#f4f4ff" stroke="#1818c4" stroke-width="1.9"/><ellipse cx="363.8" cy="263.3" rx="3.1" ry="2.6" fill="#f4f4ff" stroke="#1818c4" stroke-width="1.9"/><ellipse cx="295.6" cy="258.1" rx="2.6" ry="3.1" fill="#f4f4ff" stroke="#1818c4" stroke-width="1.9"/><ellipse cx="280.6" cy="278.1" rx="3.1" ry="3.1" fill="#f4f4ff" stroke="#1818c4" stroke-width="1.9"/><ellipse cx="291.2" cy="274.8" rx="3.1" ry="3.1" fill="#f4f4ff" stroke="#1818c4" stroke-width="1.9"/><ellipse cx="297" cy="277.3" rx="2.6" ry="2.6" fill="#f4f4ff" stroke="#1818c4" stroke-width="1.9"/><ellipse cx="278.7" cy="316.5" rx="3.1" ry="3.1" fill="#c0c8c0" stroke="#1818c4" stroke-width="1.9"/><ellipse cx="321" cy="325.4" rx="3.1" ry="3.1" fill="#f4f4ff" stroke="#1818c4" stroke-width="1.9"/><ellipse cx="345" cy="333.5" rx="3.1" ry="2.1" fill="#f4f4ff" stroke="#1818c4" stroke-width="1.9"/><ellipse cx="285.8" cy="343.5" rx="3.1" ry="2.1" fill="#f4f4ff" stroke="#1818c4" stroke-width="1.9"/><ellipse cx="373.8" cy="253.7" rx="3.1" ry="3.1" fill="#f4f4ff" stroke="#1818c4" stroke-width="1.9"/><ellipse cx="387.3" cy="249.2" rx="3.1" ry="3.1" fill="#f4f4ff" stroke="#1818c4" stroke-width="1.9"/><ellipse cx="428.3" cy="253.7" rx="3.1" ry="2.1" fill="#f4f4ff" stroke="#1818c4" stroke-width="1.9"/><ellipse cx="416.2" cy="276.7" rx="3.1" ry="2.6" fill="#f4f4ff" stroke="#1818c4" stroke-width="1.9"/><ellipse cx="389.8" cy="319" rx="3.1" ry="3.1" fill="#f4f4ff" stroke="#1818c4" stroke-width="1.9"/><ellipse cx="424.2" cy="335.4" rx="3.1" ry="3.1" fill="#f4f4ff" stroke="#1818c4" stroke-width="1.9"/><ellipse cx="457.5" cy="337" rx="3.1" ry="1.6" fill="#f4f4ff" stroke="#1818c4" stroke-width="1.9"/><ellipse cx="158.5" cy="392.1" rx="3.1" ry="2.6" fill="#f4f4ff" stroke="#1818c4" stroke-width="1.9"/><ellipse cx="158.8" cy="434.4" rx="2.6" ry="2.6" fill="#f4f4ff" stroke="#1818c4" stroke-width="1.9"/><ellipse cx="227.3" cy="354.6" rx="3.1" ry="2.6" fill="#9090d0" stroke="#1818c4" stroke-width="1.9"/><ellipse cx="333" cy="439.8" rx="3.1" ry="2.6" fill="#f4f4ff" stroke="#1818c4" stroke-width="1.9"/><ellipse cx="437.7" cy="385.4" rx="3.1" ry="2.6" fill="#f4f4ff" stroke="#1818c4" stroke-width="1.9"/><ellipse cx="433.8" cy="392.1" rx="3.1" ry="2.6" fill="#f4f4ff" stroke="#1818c4" stroke-width="1.9"/><ellipse cx="428.7" cy="397.9" rx="3.1" ry="2.6" fill="#f4f4ff" stroke="#1818c4" stroke-width="1.9"/><ellipse cx="409.4" cy="414.2" rx="3.1" ry="2.6" fill="#f4f4ff" stroke="#1818c4" stroke-width="1.9"/><ellipse cx="114.6" cy="465.6" rx="3.1" ry="2.1" fill="#f4f4ff" stroke="#1818c4" stroke-width="1.9"/><ellipse cx="213.8" cy="451.5" rx="2.6" ry="3.1" fill="#f4f4ff" stroke="#1818c4" stroke-width="1.9"/><ellipse cx="259.4" cy="464.4" rx="3.1" ry="2.1" fill="#f4f4ff" stroke="#1818c4" stroke-width="1.9"/><circle cx="121.5" cy="433.5" r="1.3" fill="#401010"/><ellipse cx="274" cy="119" rx="3.3" ry="17.8" fill="#f0b0b0" stroke="#c81818" stroke-width="1.6"/><ellipse cx="274" cy="118.5" rx="3.9" ry="9.5" fill="#e01818"/><ellipse cx="274" cy="118" rx="1.9" ry="10" fill="#111" filter="url(#b1)"/></g>
<g><line x1="89.5" y1="28" x2="182" y2="82.5" stroke="#111" stroke-width="1.5"/><line x1="157.5" y1="29" x2="208.7" y2="58.9" stroke="#111" stroke-width="1.5"/><line x1="232.5" y1="30.5" x2="273" y2="104" stroke="#111" stroke-width="1.5"/><line x1="481.5" y1="92" x2="288" y2="204" stroke="#111" stroke-width="1.5"/><line x1="480.5" y1="131.7" x2="369.5" y2="194.5" stroke="#111" stroke-width="1.5"/><line x1="480.5" y1="165" x2="376.5" y2="251.5" stroke="#111" stroke-width="1.5"/><line x1="480.5" y1="205.5" x2="367.5" y2="260.5" stroke="#111" stroke-width="1.5"/><line x1="480" y1="236" x2="282" y2="312.3" stroke="#111" stroke-width="1.5"/><line x1="480" y1="272" x2="347.5" y2="332.5" stroke="#111" stroke-width="1.5"/><line x1="480.5" y1="318.8" x2="393.5" y2="318.8" stroke="#111" stroke-width="1.5"/><line x1="481.5" y1="370.3" x2="427.5" y2="338.5" stroke="#111" stroke-width="1.5"/><line x1="25" y1="193.5" x2="221" y2="320.5" stroke="#111" stroke-width="1.5"/><line x1="27" y1="237" x2="164" y2="314" stroke="#111" stroke-width="1.5"/><line x1="25.5" y1="274" x2="149.5" y2="325" stroke="#111" stroke-width="1.5"/><line x1="26" y1="334.4" x2="136.5" y2="334.4" stroke="#111" stroke-width="1.5"/><line x1="25.7" y1="370.7" x2="224" y2="356.5" stroke="#111" stroke-width="1.5"/><line x1="27" y1="423.6" x2="253.5" y2="362.5" stroke="#111" stroke-width="1.5"/><line x1="25" y1="463.8" x2="155.5" y2="394.5" stroke="#111" stroke-width="1.5"/><line x1="99" y1="525" x2="114" y2="468.5" stroke="#111" stroke-width="1.5"/><line x1="160.6" y1="525.2" x2="160.6" y2="437.5" stroke="#111" stroke-width="1.5"/><line x1="275.6" y1="524.7" x2="260.5" y2="467.3" stroke="#111" stroke-width="1.5"/><line x1="355.6" y1="527.6" x2="334" y2="443" stroke="#111" stroke-width="1.5"/></g>
<g font-family="Liberation Sans"><line x1="69" y1="25.5" x2="90" y2="25.5" stroke="#555" stroke-width="1"/><line x1="69.8" y1="12.1" x2="69.8" y2="25.5" stroke="#3a3a3a" stroke-width="1.3"/><line x1="72.7" y1="13.6" x2="72.7" y2="25.5" stroke="#3a3a3a" stroke-width="1.3"/><line x1="74.8" y1="15" x2="74.8" y2="25.5" stroke="#3a3a3a" stroke-width="1.3"/><line x1="77.5" y1="12.7" x2="77.5" y2="25.5" stroke="#3a3a3a" stroke-width="1.3"/><line x1="80.2" y1="2.5" x2="80.2" y2="25.5" stroke="#3a3a3a" stroke-width="1.3"/><line x1="82.8" y1="2.5" x2="82.8" y2="25.5" stroke="#3a3a3a" stroke-width="1.3"/><line x1="84.5" y1="2.5" x2="84.5" y2="25.5" stroke="#3a3a3a" stroke-width="1.3"/><line x1="87.7" y1="4" x2="87.7" y2="25.5" stroke="#3a3a3a" stroke-width="1.3"/><text x="91.6" y="12.1" font-size="11.4" font-weight="bold" fill="#000">U1</text><line x1="138" y1="25.6" x2="157" y2="25.6" stroke="#555" stroke-width="1"/><line x1="139.2" y1="4.4" x2="139.2" y2="25.6" stroke="#3a3a3a" stroke-width="1.3"/><line x1="141.9" y1="9.8" x2="141.9" y2="25.6" stroke="#3a3a3a" stroke-width="1.3"/><line x1="144.4" y1="9.8" x2="144.4" y2="25.6" stroke="#3a3a3a" stroke-width="1.3"/><line x1="147" y1="11" x2="147" y2="25.6" stroke="#3a3a3a" stroke-width="1.3"/><line x1="149.5" y1="23.6" x2="149.5" y2="25.6" stroke="#3a3a3a" stroke-width="1.3"/><line x1="151" y1="23.6" x2="151" y2="25.6" stroke="#3a3a3a" stroke-width="1.3"/><line x1="153" y1="23.4" x2="153" y2="25.6" stroke="#3a3a3a" stroke-width="1.3"/><line x1="155.5" y1="23" x2="155.5" y2="25.6" stroke="#3a3a3a" stroke-width="1.3"/><text x="159.7" y="12.1" font-size="11.4" font-weight="bold" fill="#000">D1</text><line x1="216.5" y1="26.5" x2="238.5" y2="26.5" stroke="#555" stroke-width="1"/><line x1="219.2" y1="4.6" x2="219.2" y2="26.5" stroke="#3a3a3a" stroke-width="1.3"/><line x1="221.5" y1="7.5" x2="221.5" y2="26.5" stroke="#3a3a3a" stroke-width="1.3"/><line x1="223.8" y1="4.6" x2="223.8" y2="26.5" stroke="#3a3a3a" stroke-width="1.3"/><line x1="226.2" y1="4.6" x2="226.2" y2="26.5" stroke="#3a3a3a" stroke-width="1.3"/><line x1="228.5" y1="6" x2="228.5" y2="26.5" stroke="#3a3a3a" stroke-width="1.3"/><line x1="229.8" y1="8" x2="229.8" y2="26.5" stroke="#3a3a3a" stroke-width="1.3"/><line x1="232.5" y1="24" x2="232.5" y2="26.5" stroke="#3a3a3a" stroke-width="1.3"/><line x1="234.2" y1="24" x2="234.2" y2="26.5" stroke="#3a3a3a" stroke-width="1.3"/><line x1="237.1" y1="19" x2="237.1" y2="26.5" stroke="#3a3a3a" stroke-width="1.3"/><text x="239.7" y="12.1" font-size="11.4" font-weight="bold" fill="#000">D2</text><line x1="483" y1="102.5" x2="501.5" y2="102.5" stroke="#555" stroke-width="1"/><line x1="483.7" y1="85" x2="483.7" y2="102.5" stroke="#3a3a3a" stroke-width="1.3"/><line x1="486.3" y1="85" x2="486.3" y2="102.5" stroke="#3a3a3a" stroke-width="1.3"/><line x1="488.4" y1="84.5" x2="488.4" y2="102.5" stroke="#3a3a3a" stroke-width="1.3"/><line x1="490.8" y1="81.8" x2="490.8" y2="102.5" stroke="#3a3a3a" stroke-width="1.3"/><line x1="493" y1="96" x2="493" y2="102.5" stroke="#3a3a3a" stroke-width="1.3"/><line x1="495.7" y1="97" x2="495.7" y2="102.5" stroke="#3a3a3a" stroke-width="1.3"/><line x1="497.8" y1="96" x2="497.8" y2="102.5" stroke="#3a3a3a" stroke-width="1.3"/><line x1="500.5" y1="96" x2="500.5" y2="102.5" stroke="#3a3a3a" stroke-width="1.3"/><text x="503.8" y="89.89999999999999" font-size="11.4" font-weight="bold" fill="#000">D3</text><line x1="484.5" y1="138.5" x2="503" y2="138.5" stroke="#555" stroke-width="1"/><line x1="485.2" y1="117.5" x2="485.2" y2="138.5" stroke="#3a3a3a" stroke-width="1.3"/><line x1="487.3" y1="122.8" x2="487.3" y2="138.5" stroke="#3a3a3a" stroke-width="1.3"/><line x1="489.4" y1="121.2" x2="489.4" y2="138.5" stroke="#3a3a3a" stroke-width="1.3"/><line x1="492.3" y1="119.6" x2="492.3" y2="138.5" stroke="#3a3a3a" stroke-width="1.3"/><line x1="494.7" y1="133.3" x2="494.7" y2="138.5" stroke="#3a3a3a" stroke-width="1.3"/><line x1="497.5" y1="132.2" x2="497.5" y2="138.5" stroke="#3a3a3a" stroke-width="1.3"/><line x1="500" y1="133.3" x2="500" y2="138.5" stroke="#3a3a3a" stroke-width="1.3"/><line x1="502.6" y1="134.3" x2="502.6" y2="138.5" stroke="#3a3a3a" stroke-width="1.3"/><text x="503.8" y="125.6" font-size="11.4" font-weight="bold" fill="#000">D4</text><line x1="483" y1="172.2" x2="501.5" y2="172.2" stroke="#555" stroke-width="1"/><line x1="484" y1="169.5" x2="484" y2="172.2" stroke="#3a3a3a" stroke-width="1.3"/><line x1="486" y1="167" x2="486" y2="172.2" stroke="#3a3a3a" stroke-width="1.3"/><line x1="488" y1="170" x2="488" y2="172.2" stroke="#3a3a3a" stroke-width="1.3"/><line x1="490.5" y1="170.5" x2="490.5" y2="172.2" stroke="#3a3a3a" stroke-width="1.3"/><line x1="493.1" y1="156.4" x2="493.1" y2="172.2" stroke="#3a3a3a" stroke-width="1.3"/><line x1="495.7" y1="153.8" x2="495.7" y2="172.2" stroke="#3a3a3a" stroke-width="1.3"/><line x1="497.8" y1="153.8" x2="497.8" y2="172.2" stroke="#3a3a3a" stroke-width="1.3"/><line x1="500.5" y1="153.8" x2="500.5" y2="172.2" stroke="#3a3a3a" stroke-width="1.3"/><text x="503.8" y="162.9" font-size="11.4" font-weight="bold" fill="#000">U2</text><line x1="483.5" y1="207.6" x2="501.5" y2="207.6" stroke="#555" stroke-width="1"/><line x1="484.2" y1="201.8" x2="484.2" y2="207.6" stroke="#3a3a3a" stroke-width="1.3"/><line x1="486.8" y1="200.2" x2="486.8" y2="207.6" stroke="#3a3a3a" stroke-width="1.3"/><line x1="489.2" y1="199.7" x2="489.2" y2="207.6" stroke="#3a3a3a" stroke-width="1.3"/><line x1="491.2" y1="201" x2="491.2" y2="207.6" stroke="#3a3a3a" stroke-width="1.3"/><line x1="493.2" y1="188.7" x2="493.2" y2="207.6" stroke="#3a3a3a" stroke-width="1.3"/><line x1="495.6" y1="190.8" x2="495.6" y2="207.6" stroke="#3a3a3a" stroke-width="1.3"/><line x1="498" y1="188.7" x2="498" y2="207.6" stroke="#3a3a3a" stroke-width="1.3"/><line x1="500.5" y1="188" x2="500.5" y2="207.6" stroke="#3a3a3a" stroke-width="1.3"/><text x="503.8" y="197.79999999999998" font-size="11.4" font-weight="bold" fill="#000">U3</text><line x1="483" y1="243.3" x2="502.5" y2="243.3" stroke="#555" stroke-width="1"/><line x1="484" y1="232.2" x2="484" y2="243.3" stroke="#3a3a3a" stroke-width="1.3"/><line x1="486.5" y1="232" x2="486.5" y2="243.3" stroke="#3a3a3a" stroke-width="1.3"/><line x1="489" y1="233.3" x2="489" y2="243.3" stroke="#3a3a3a" stroke-width="1.3"/><line x1="491.5" y1="229.6" x2="491.5" y2="243.3" stroke="#3a3a3a" stroke-width="1.3"/><line x1="494" y1="225.4" x2="494" y2="243.3" stroke="#3a3a3a" stroke-width="1.3"/><line x1="496.5" y1="222.8" x2="496.5" y2="243.3" stroke="#3a3a3a" stroke-width="1.3"/><line x1="499" y1="226" x2="499" y2="243.3" stroke="#3a3a3a" stroke-width="1.3"/><line x1="501.5" y1="224.4" x2="501.5" y2="243.3" stroke="#3a3a3a" stroke-width="1.3"/><text x="503.8" y="232.5" font-size="11.4" font-weight="bold" fill="#000">U4</text><line x1="483" y1="280.5" x2="503" y2="280.5" stroke="#555" stroke-width="1"/><line x1="484" y1="268.4" x2="484" y2="280.5" stroke="#3a3a3a" stroke-width="1.3"/><line x1="486.5" y1="268" x2="486.5" y2="280.5" stroke="#3a3a3a" stroke-width="1.3"/><line x1="489" y1="272" x2="489" y2="280.5" stroke="#3a3a3a" stroke-width="1.3"/><line x1="491.5" y1="265.2" x2="491.5" y2="280.5" stroke="#3a3a3a" stroke-width="1.3"/><line x1="494" y1="259.5" x2="494" y2="280.5" stroke="#3a3a3a" stroke-width="1.3"/><line x1="496.5" y1="261" x2="496.5" y2="280.5" stroke="#3a3a3a" stroke-width="1.3"/><line x1="499" y1="259.5" x2="499" y2="280.5" stroke="#3a3a3a" stroke-width="1.3"/><line x1="501.5" y1="259.5" x2="501.5" y2="280.5" stroke="#3a3a3a" stroke-width="1.3"/><text x="504.3" y="266.0" font-size="11.4" font-weight="bold" fill="#000">U5</text><line x1="483" y1="332.5" x2="501.5" y2="332.5" stroke="#555" stroke-width="1"/><line x1="483.5" y1="321.4" x2="483.5" y2="332.5" stroke="#3a3a3a" stroke-width="1.3"/><line x1="486" y1="321.4" x2="486" y2="332.5" stroke="#3a3a3a" stroke-width="1.3"/><line x1="488.5" y1="321" x2="488.5" y2="332.5" stroke="#3a3a3a" stroke-width="1.3"/><line x1="491" y1="320.4" x2="491" y2="332.5" stroke="#3a3a3a" stroke-width="1.3"/><line x1="493.5" y1="312.5" x2="493.5" y2="332.5" stroke="#3a3a3a" stroke-width="1.3"/><line x1="496" y1="312.5" x2="496" y2="332.5" stroke="#3a3a3a" stroke-width="1.3"/><line x1="498.5" y1="312.5" x2="498.5" y2="332.5" stroke="#3a3a3a" stroke-width="1.3"/><line x1="501" y1="312.5" x2="501" y2="332.5" stroke="#3a3a3a" stroke-width="1.3"/><text x="503.8" y="320.1" font-size="11.4" font-weight="bold" fill="#000">U6</text><line x1="482.8" y1="385.7" x2="502.3" y2="385.7" stroke="#555" stroke-width="1"/><line x1="484" y1="383.5" x2="484" y2="385.7" stroke="#3a3a3a" stroke-width="1.3"/><line x1="486.5" y1="384" x2="486.5" y2="385.7" stroke="#3a3a3a" stroke-width="1.3"/><line x1="489" y1="383.5" x2="489" y2="385.7" stroke="#3a3a3a" stroke-width="1.3"/><line x1="490.5" y1="383" x2="490.5" y2="385.7" stroke="#3a3a3a" stroke-width="1.3"/><line x1="492.3" y1="365.4" x2="492.3" y2="385.7" stroke="#3a3a3a" stroke-width="1.3"/><line x1="494.2" y1="365.4" x2="494.2" y2="385.7" stroke="#3a3a3a" stroke-width="1.3"/><line x1="496.2" y1="365.4" x2="496.2" y2="385.7" stroke="#3a3a3a" stroke-width="1.3"/><line x1="498.2" y1="365.4" x2="498.2" y2="385.7" stroke="#3a3a3a" stroke-width="1.3"/><text x="503.70000000000005" y="373.5" font-size="11.4" font-weight="bold" fill="#000">U7</text><line x1="0" y1="190.7" x2="22.6" y2="190.7" stroke="#555" stroke-width="1"/><line x1="1.9" y1="181.8" x2="1.9" y2="190.7" stroke="#3a3a3a" stroke-width="1.3"/><line x1="4.7" y1="182.8" x2="4.7" y2="190.7" stroke="#3a3a3a" stroke-width="1.3"/><line x1="7.4" y1="183.6" x2="7.4" y2="190.7" stroke="#3a3a3a" stroke-width="1.3"/><line x1="10.2" y1="182.8" x2="10.2" y2="190.7" stroke="#3a3a3a" stroke-width="1.3"/><line x1="12.8" y1="168.1" x2="12.8" y2="190.7" stroke="#3a3a3a" stroke-width="1.3"/><line x1="15.8" y1="167.6" x2="15.8" y2="190.7" stroke="#3a3a3a" stroke-width="1.3"/><line x1="18.4" y1="168" x2="18.4" y2="190.7" stroke="#3a3a3a" stroke-width="1.3"/><line x1="21.5" y1="167.6" x2="21.5" y2="190.7" stroke="#3a3a3a" stroke-width="1.3"/><text x="23.3" y="176.2" font-size="11.4" font-weight="bold" fill="#000">U14</text><line x1="2" y1="235.7" x2="21.5" y2="235.7" stroke="#555" stroke-width="1"/><line x1="2.6" y1="214.9" x2="2.6" y2="235.7" stroke="#3a3a3a" stroke-width="1.3"/><line x1="4.7" y1="215" x2="4.7" y2="235.7" stroke="#3a3a3a" stroke-width="1.3"/><line x1="7.4" y1="216.4" x2="7.4" y2="235.7" stroke="#3a3a3a" stroke-width="1.3"/><line x1="10.2" y1="213.3" x2="10.2" y2="235.7" stroke="#3a3a3a" stroke-width="1.3"/><line x1="12.6" y1="227" x2="12.6" y2="235.7" stroke="#3a3a3a" stroke-width="1.3"/><line x1="15.4" y1="222.8" x2="15.4" y2="235.7" stroke="#3a3a3a" stroke-width="1.3"/><line x1="17.9" y1="226.4" x2="17.9" y2="235.7" stroke="#3a3a3a" stroke-width="1.3"/><line x1="20.5" y1="226.4" x2="20.5" y2="235.7" stroke="#3a3a3a" stroke-width="1.3"/><text x="29.6" y="223.0" font-size="11.4" font-weight="bold" fill="#000">D5</text><line x1="2" y1="274.1" x2="22" y2="274.1" stroke="#555" stroke-width="1"/><line x1="2.6" y1="251.6" x2="2.6" y2="274.1" stroke="#3a3a3a" stroke-width="1.3"/><line x1="5.3" y1="253.1" x2="5.3" y2="274.1" stroke="#3a3a3a" stroke-width="1.3"/><line x1="7.9" y1="257.3" x2="7.9" y2="274.1" stroke="#3a3a3a" stroke-width="1.3"/><line x1="10.5" y1="251" x2="10.5" y2="274.1" stroke="#3a3a3a" stroke-width="1.3"/><line x1="13.1" y1="265.7" x2="13.1" y2="274.1" stroke="#3a3a3a" stroke-width="1.3"/><line x1="15.8" y1="270.5" x2="15.8" y2="274.1" stroke="#3a3a3a" stroke-width="1.3"/><line x1="17.9" y1="270.5" x2="17.9" y2="274.1" stroke="#3a3a3a" stroke-width="1.3"/><line x1="21" y1="270" x2="21" y2="274.1" stroke="#3a3a3a" stroke-width="1.3"/><text x="29.0" y="260.2" font-size="11.4" font-weight="bold" fill="#000">D6</text><line x1="2" y1="347.4" x2="22" y2="347.4" stroke="#555" stroke-width="1"/><line x1="2.6" y1="329.7" x2="2.6" y2="347.4" stroke="#3a3a3a" stroke-width="1.3"/><line x1="5.3" y1="324.5" x2="5.3" y2="347.4" stroke="#3a3a3a" stroke-width="1.3"/><line x1="7.7" y1="325.5" x2="7.7" y2="347.4" stroke="#3a3a3a" stroke-width="1.3"/><line x1="10.2" y1="326" x2="10.2" y2="347.4" stroke="#3a3a3a" stroke-width="1.3"/><line x1="12.6" y1="340.2" x2="12.6" y2="347.4" stroke="#3a3a3a" stroke-width="1.3"/><line x1="15.2" y1="338.6" x2="15.2" y2="347.4" stroke="#3a3a3a" stroke-width="1.3"/><line x1="17.9" y1="339.7" x2="17.9" y2="347.4" stroke="#3a3a3a" stroke-width="1.3"/><line x1="21" y1="338.1" x2="21" y2="347.4" stroke="#3a3a3a" stroke-width="1.3"/><text x="29.1" y="332.6" font-size="11.4" font-weight="bold" fill="#000">D7</text><line x1="1" y1="380.7" x2="21.5" y2="380.7" stroke="#555" stroke-width="1"/><line x1="1.6" y1="372.2" x2="1.6" y2="380.7" stroke="#3a3a3a" stroke-width="1.3"/><line x1="4.2" y1="372" x2="4.2" y2="380.7" stroke="#3a3a3a" stroke-width="1.3"/><line x1="6.8" y1="373.3" x2="6.8" y2="380.7" stroke="#3a3a3a" stroke-width="1.3"/><line x1="9.8" y1="372.2" x2="9.8" y2="380.7" stroke="#3a3a3a" stroke-width="1.3"/><line x1="12.4" y1="359.1" x2="12.4" y2="380.7" stroke="#3a3a3a" stroke-width="1.3"/><line x1="15.2" y1="358" x2="15.2" y2="380.7" stroke="#3a3a3a" stroke-width="1.3"/><line x1="17.9" y1="358.5" x2="17.9" y2="380.7" stroke="#3a3a3a" stroke-width="1.3"/><line x1="20.5" y1="357.5" x2="20.5" y2="380.7" stroke="#3a3a3a" stroke-width="1.3"/><text x="22.700000000000003" y="366.70000000000005" font-size="11.4" font-weight="bold" fill="#000">U13</text><line x1="2.5" y1="427.6" x2="22" y2="427.6" stroke="#555" stroke-width="1"/><line x1="3.7" y1="406" x2="3.7" y2="427.6" stroke="#3a3a3a" stroke-width="1.3"/><line x1="5.8" y1="412.3" x2="5.8" y2="427.6" stroke="#3a3a3a" stroke-width="1.3"/><line x1="8.4" y1="411.8" x2="8.4" y2="427.6" stroke="#3a3a3a" stroke-width="1.3"/><line x1="11.2" y1="409.7" x2="11.2" y2="427.6" stroke="#3a3a3a" stroke-width="1.3"/><line x1="13.3" y1="421.8" x2="13.3" y2="427.6" stroke="#3a3a3a" stroke-width="1.3"/><line x1="16" y1="420.7" x2="16" y2="427.6" stroke="#3a3a3a" stroke-width="1.3"/><line x1="18.4" y1="421.8" x2="18.4" y2="427.6" stroke="#3a3a3a" stroke-width="1.3"/><line x1="21" y1="422.8" x2="21" y2="427.6" stroke="#3a3a3a" stroke-width="1.3"/><text x="29.1" y="413.6" font-size="11.4" font-weight="bold" fill="#000">D8</text><line x1="2.5" y1="465.6" x2="22.5" y2="465.6" stroke="#555" stroke-width="1"/><line x1="3.7" y1="461.7" x2="3.7" y2="465.6" stroke="#3a3a3a" stroke-width="1.3"/><line x1="6.3" y1="462.2" x2="6.3" y2="465.6" stroke="#3a3a3a" stroke-width="1.3"/><line x1="8.9" y1="464.5" x2="8.9" y2="465.6" stroke="#3a3a3a" stroke-width="1.3"/><line x1="11.2" y1="461.4" x2="11.2" y2="465.6" stroke="#3a3a3a" stroke-width="1.3"/><line x1="13.7" y1="452.2" x2="13.7" y2="465.6" stroke="#3a3a3a" stroke-width="1.3"/><line x1="16.3" y1="449.1" x2="16.3" y2="465.6" stroke="#3a3a3a" stroke-width="1.3"/><line x1="18.9" y1="451.7" x2="18.9" y2="465.6" stroke="#3a3a3a" stroke-width="1.3"/><line x1="21.3" y1="443.8" x2="21.3" y2="465.6" stroke="#3a3a3a" stroke-width="1.3"/><text x="23.1" y="450.40000000000003" font-size="11.4" font-weight="bold" fill="#000">U12</text><line x1="74.5" y1="551.9" x2="97" y2="551.9" stroke="#555" stroke-width="1"/><line x1="75.3" y1="549.2" x2="75.3" y2="551.9" stroke="#111" stroke-width="1.5"/><line x1="78.2" y1="546.8" x2="78.2" y2="551.9" stroke="#111" stroke-width="1.5"/><line x1="80.6" y1="549.2" x2="80.6" y2="551.9" stroke="#111" stroke-width="1.5"/><line x1="84.2" y1="547.3" x2="84.2" y2="551.9" stroke="#111" stroke-width="1.5"/><line x1="86.8" y1="532.9" x2="86.8" y2="551.9" stroke="#111" stroke-width="1.5"/><line x1="89.7" y1="527.3" x2="89.7" y2="551.9" stroke="#111" stroke-width="1.5"/><line x1="92.1" y1="532.4" x2="92.1" y2="551.9" stroke="#111" stroke-width="1.5"/><line x1="95.2" y1="528" x2="95.2" y2="551.9" stroke="#111" stroke-width="1.5"/><text x="97.0" y="538.1" font-size="11.4" font-weight="bold" fill="#000">U11</text><line x1="151" y1="550.4" x2="173" y2="550.4" stroke="#555" stroke-width="1"/><line x1="151.9" y1="535.8" x2="151.9" y2="550.4" stroke="#111" stroke-width="1.5"/><line x1="154.6" y1="536.3" x2="154.6" y2="550.4" stroke="#111" stroke-width="1.5"/><line x1="157.5" y1="539.1" x2="157.5" y2="550.4" stroke="#111" stroke-width="1.5"/><line x1="160.4" y1="549" x2="160.4" y2="550.4" stroke="#111" stroke-width="1.5"/><line x1="163.3" y1="531" x2="163.3" y2="550.4" stroke="#111" stroke-width="1.5"/><line x1="166.2" y1="531" x2="166.2" y2="550.4" stroke="#111" stroke-width="1.5"/><line x1="169" y1="525.7" x2="169" y2="550.4" stroke="#111" stroke-width="1.5"/><line x1="172.4" y1="525.2" x2="172.4" y2="550.4" stroke="#111" stroke-width="1.5"/><text x="173.9" y="534.3000000000001" font-size="11.4" font-weight="bold" fill="#000">U10</text><line x1="271.3" y1="550.7" x2="291.4" y2="550.7" stroke="#555" stroke-width="1"/><line x1="271.9" y1="544" x2="271.9" y2="550.7" stroke="#3a3a3a" stroke-width="1.3"/><line x1="274.6" y1="546.3" x2="274.6" y2="550.7" stroke="#3a3a3a" stroke-width="1.3"/><line x1="277.3" y1="546.3" x2="277.3" y2="550.7" stroke="#3a3a3a" stroke-width="1.3"/><line x1="279.9" y1="546.3" x2="279.9" y2="550.7" stroke="#3a3a3a" stroke-width="1.3"/><line x1="282.8" y1="533.8" x2="282.8" y2="550.7" stroke="#3a3a3a" stroke-width="1.3"/><line x1="284.7" y1="528.6" x2="284.7" y2="550.7" stroke="#3a3a3a" stroke-width="1.3"/><line x1="287.6" y1="528" x2="287.6" y2="550.7" stroke="#3a3a3a" stroke-width="1.3"/><line x1="290.2" y1="528" x2="290.2" y2="550.7" stroke="#3a3a3a" stroke-width="1.3"/><text x="292.0" y="537.6" font-size="11.4" font-weight="bold" fill="#000">U9</text><line x1="353.5" y1="549.7" x2="373" y2="549.7" stroke="#555" stroke-width="1"/><line x1="354.1" y1="539.6" x2="354.1" y2="549.7" stroke="#3a3a3a" stroke-width="1.3"/><line x1="356.5" y1="541" x2="356.5" y2="549.7" stroke="#3a3a3a" stroke-width="1.3"/><line x1="359.2" y1="545.9" x2="359.2" y2="549.7" stroke="#3a3a3a" stroke-width="1.3"/><line x1="361.5" y1="548.5" x2="361.5" y2="549.7" stroke="#3a3a3a" stroke-width="1.3"/><line x1="364" y1="528" x2="364" y2="549.7" stroke="#3a3a3a" stroke-width="1.3"/><line x1="366.6" y1="529.5" x2="366.6" y2="549.7" stroke="#3a3a3a" stroke-width="1.3"/><line x1="368" y1="528" x2="368" y2="549.7" stroke="#3a3a3a" stroke-width="1.3"/><line x1="370.2" y1="528" x2="370.2" y2="549.7" stroke="#3a3a3a" stroke-width="1.3"/><line x1="372.4" y1="528" x2="372.4" y2="549.7" stroke="#3a3a3a" stroke-width="1.3"/><text x="373.90000000000003" y="538.6" font-size="11.4" font-weight="bold" fill="#000">U8</text></g>
<text x="0" y="602.7" font-family="Liberation Sans" font-weight="bold" font-size="27.6" fill="#000">B</text>
<text x="4" y="629.5" font-family="Liberation Sans" font-size="15" fill="#222">Non-treatment 72h</text>
<text x="272" y="629.5" font-family="Liberation Sans" font-size="15" fill="#222" textLength="135" lengthAdjust="spacingAndGlyphs">ATRA-treatment 72h</text>
<rect x="0" y="637" width="255.3" height="314" fill="#2b2b2b"/>
<rect x="266.5" y="637" width="253.5" height="314" fill="#2b2b2b"/>
<rect x="255.3" y="637" width="8.5" height="314" fill="url(#chk)"/>
<rect x="263.8" y="637" width="1.2" height="314" fill="#333"/>
<rect x="265" y="637" width="1.5" height="314" fill="#b8b8b8"/>
<defs><radialGradient id="rg"><stop offset="0.0" stop-color="#fff" stop-opacity="1.000"/><stop offset="0.1" stop-color="#fff" stop-opacity="0.946"/><stop offset="0.2" stop-color="#fff" stop-opacity="0.801"/><stop offset="0.3" stop-color="#fff" stop-opacity="0.607"/><stop offset="0.4" stop-color="#fff" stop-opacity="0.411"/><stop offset="0.5" stop-color="#fff" stop-opacity="0.249"/><stop offset="0.6" stop-color="#fff" stop-opacity="0.135"/><stop offset="0.7" stop-color="#fff" stop-opacity="0.066"/><stop offset="0.8" stop-color="#fff" stop-opacity="0.029"/><stop offset="0.9" stop-color="#fff" stop-opacity="0.011"/><stop offset="1.0" stop-color="#fff" stop-opacity="0.004"/></radialGradient></defs>
<g><ellipse cx="120" cy="682.5" rx="39.6" ry="21.6" fill="url(#rg)" opacity="0.32"/><ellipse cx="120" cy="682.5" rx="18.7" ry="10.2" fill="url(#rg)" opacity="0.50"/><ellipse cx="100" cy="769" rx="39.6" ry="25.2" fill="url(#rg)" opacity="0.38"/><ellipse cx="100" cy="769" rx="18.7" ry="11.9" fill="url(#rg)" opacity="0.61"/><ellipse cx="32.5" cy="785.5" rx="36.0" ry="21.6" fill="url(#rg)" opacity="0.38"/><ellipse cx="32.5" cy="785.5" rx="17.0" ry="10.2" fill="url(#rg)" opacity="0.61"/><ellipse cx="10" cy="762.5" rx="28.8" ry="21.6" fill="url(#rg)" opacity="0.18"/><ellipse cx="10" cy="762.5" rx="13.6" ry="10.2" fill="url(#rg)" opacity="0.29"/><ellipse cx="247.5" cy="715" rx="25.2" ry="43.2" fill="url(#rg)" opacity="0.43"/><ellipse cx="247.5" cy="715" rx="11.9" ry="20.4" fill="url(#rg)" opacity="0.68"/><ellipse cx="193" cy="705.5" rx="32.4" ry="21.6" fill="url(#rg)" opacity="0.23"/><ellipse cx="193" cy="705.5" rx="15.3" ry="10.2" fill="url(#rg)" opacity="0.36"/><ellipse cx="182.5" cy="807.5" rx="39.6" ry="25.2" fill="url(#rg)" opacity="0.34"/><ellipse cx="182.5" cy="807.5" rx="18.7" ry="11.9" fill="url(#rg)" opacity="0.54"/><ellipse cx="200" cy="793" rx="25.2" ry="18.0" fill="url(#rg)" opacity="0.20"/><ellipse cx="200" cy="793" rx="11.9" ry="8.5" fill="url(#rg)" opacity="0.32"/><ellipse cx="150" cy="810.5" rx="32.4" ry="21.6" fill="url(#rg)" opacity="0.20"/><ellipse cx="150" cy="810.5" rx="15.3" ry="10.2" fill="url(#rg)" opacity="0.32"/><ellipse cx="55" cy="862.5" rx="36.0" ry="25.2" fill="url(#rg)" opacity="0.36"/><ellipse cx="55" cy="862.5" rx="17.0" ry="11.9" fill="url(#rg)" opacity="0.58"/><ellipse cx="72" cy="863" rx="46.8" ry="16.2" fill="url(#rg)" opacity="0.09"/><ellipse cx="72" cy="863" rx="22.1" ry="7.6" fill="url(#rg)" opacity="0.14"/><ellipse cx="95" cy="853" rx="25.2" ry="18.0" fill="url(#rg)" opacity="0.23"/><ellipse cx="95" cy="853" rx="11.9" ry="8.5" fill="url(#rg)" opacity="0.36"/><ellipse cx="102.5" cy="892.5" rx="36.0" ry="25.2" fill="url(#rg)" opacity="0.41"/><ellipse cx="102.5" cy="892.5" rx="17.0" ry="11.9" fill="url(#rg)" opacity="0.65"/><ellipse cx="118" cy="893" rx="39.6" ry="16.2" fill="url(#rg)" opacity="0.09"/><ellipse cx="118" cy="893" rx="18.7" ry="7.6" fill="url(#rg)" opacity="0.14"/><ellipse cx="25" cy="895.5" rx="28.8" ry="21.6" fill="url(#rg)" opacity="0.16"/><ellipse cx="25" cy="895.5" rx="13.6" ry="10.2" fill="url(#rg)" opacity="0.25"/><ellipse cx="250" cy="855" rx="18.0" ry="25.2" fill="url(#rg)" opacity="0.18"/><ellipse cx="250" cy="855" rx="8.5" ry="11.9" fill="url(#rg)" opacity="0.29"/><ellipse cx="140" cy="690" rx="28.8" ry="21.6" fill="url(#rg)" opacity="0.09"/><ellipse cx="140" cy="690" rx="13.6" ry="10.2" fill="url(#rg)" opacity="0.14"/><ellipse cx="37.5" cy="751" rx="28.8" ry="21.6" fill="url(#rg)" opacity="0.11"/><ellipse cx="37.5" cy="751" rx="13.6" ry="10.2" fill="url(#rg)" opacity="0.18"/><ellipse cx="65" cy="657.5" rx="28.8" ry="18.0" fill="url(#rg)" opacity="0.09"/><ellipse cx="65" cy="657.5" rx="13.6" ry="8.5" fill="url(#rg)" opacity="0.14"/><ellipse cx="165" cy="657.5" rx="25.2" ry="18.0" fill="url(#rg)" opacity="0.07"/><ellipse cx="165" cy="657.5" rx="11.9" ry="8.5" fill="url(#rg)" opacity="0.11"/><ellipse cx="135" cy="765" rx="25.2" ry="18.0" fill="url(#rg)" opacity="0.09"/><ellipse cx="135" cy="765" rx="11.9" ry="8.5" fill="url(#rg)" opacity="0.14"/><ellipse cx="92.5" cy="837.5" rx="25.2" ry="18.0" fill="url(#rg)" opacity="0.09"/><ellipse cx="92.5" cy="837.5" rx="11.9" ry="8.5" fill="url(#rg)" opacity="0.14"/><ellipse cx="120" cy="920" rx="25.2" ry="18.0" fill="url(#rg)" opacity="0.09"/><ellipse cx="120" cy="920" rx="11.9" ry="8.5" fill="url(#rg)" opacity="0.14"/><ellipse cx="61" cy="926" rx="25.2" ry="14.4" fill="url(#rg)" opacity="0.09"/><ellipse cx="61" cy="926" rx="11.9" ry="6.8" fill="url(#rg)" opacity="0.14"/><ellipse cx="90" cy="706" rx="28.8" ry="18.0" fill="url(#rg)" opacity="0.09"/><ellipse cx="90" cy="706" rx="13.6" ry="8.5" fill="url(#rg)" opacity="0.14"/><ellipse cx="55" cy="762.5" rx="28.8" ry="18.0" fill="url(#rg)" opacity="0.09"/><ellipse cx="55" cy="762.5" rx="13.6" ry="8.5" fill="url(#rg)" opacity="0.14"/><ellipse cx="82.5" cy="680" rx="25.2" ry="18.0" fill="url(#rg)" opacity="0.09"/><ellipse cx="82.5" cy="680" rx="11.9" ry="8.5" fill="url(#rg)" opacity="0.14"/><ellipse cx="87.5" cy="812.5" rx="72.0" ry="45.0" fill="url(#rg)" opacity="0.07"/><ellipse cx="87.5" cy="812.5" rx="34.0" ry="21.2" fill="url(#rg)" opacity="0.11"/><ellipse cx="200" cy="879.6" rx="32.4" ry="25.2" fill="url(#rg)" opacity="0.09"/><ellipse cx="200" cy="879.6" rx="15.3" ry="11.9" fill="url(#rg)" opacity="0.14"/><ellipse cx="140.6" cy="875.7" rx="25.2" ry="18.0" fill="url(#rg)" opacity="0.09"/><ellipse cx="140.6" cy="875.7" rx="11.9" ry="8.5" fill="url(#rg)" opacity="0.14"/><ellipse cx="216" cy="901.7" rx="25.2" ry="18.0" fill="url(#rg)" opacity="0.07"/><ellipse cx="216" cy="901.7" rx="11.9" ry="8.5" fill="url(#rg)" opacity="0.11"/><ellipse cx="200" cy="755" rx="72.0" ry="54.0" fill="url(#rg)" opacity="0.05"/><ellipse cx="200" cy="755" rx="34.0" ry="25.5" fill="url(#rg)" opacity="0.07"/><ellipse cx="100" cy="720" rx="90.0" ry="54.0" fill="url(#rg)" opacity="0.04"/><ellipse cx="100" cy="720" rx="42.5" ry="25.5" fill="url(#rg)" opacity="0.06"/><ellipse cx="40" cy="715" rx="72.0" ry="54.0" fill="url(#rg)" opacity="0.05"/><ellipse cx="40" cy="715" rx="34.0" ry="25.5" fill="url(#rg)" opacity="0.07"/><ellipse cx="150" cy="740" rx="72.0" ry="54.0" fill="url(#rg)" opacity="0.03"/><ellipse cx="150" cy="740" rx="34.0" ry="25.5" fill="url(#rg)" opacity="0.05"/><ellipse cx="98" cy="840" rx="36.0" ry="45.0" fill="url(#rg)" opacity="0.07"/><ellipse cx="98" cy="840" rx="17.0" ry="21.2" fill="url(#rg)" opacity="0.11"/><ellipse cx="130" cy="862" rx="72.0" ry="14.4" fill="url(#rg)" opacity="0.05"/><ellipse cx="130" cy="862" rx="34.0" ry="6.8" fill="url(#rg)" opacity="0.09"/><ellipse cx="207" cy="903" rx="25.2" ry="18.0" fill="url(#rg)" opacity="0.07"/><ellipse cx="207" cy="903" rx="11.9" ry="8.5" fill="url(#rg)" opacity="0.11"/><ellipse cx="133" cy="923" rx="5.4" ry="5.4" fill="url(#rg)" opacity="0.23"/><ellipse cx="133" cy="923" rx="2.5" ry="2.5" fill="url(#rg)" opacity="0.36"/><ellipse cx="297.5" cy="805" rx="36.0" ry="21.6" fill="url(#rg)" opacity="0.36"/><ellipse cx="297.5" cy="805" rx="17.0" ry="10.2" fill="url(#rg)" opacity="0.58"/><ellipse cx="322.5" cy="872.5" rx="36.0" ry="21.6" fill="url(#rg)" opacity="0.38"/><ellipse cx="322.5" cy="872.5" rx="17.0" ry="10.2" fill="url(#rg)" opacity="0.61"/><ellipse cx="371" cy="892.5" rx="39.6" ry="21.6" fill="url(#rg)" opacity="0.41"/><ellipse cx="371" cy="892.5" rx="18.7" ry="10.2" fill="url(#rg)" opacity="0.65"/><ellipse cx="365" cy="860" rx="32.4" ry="21.6" fill="url(#rg)" opacity="0.23"/><ellipse cx="365" cy="860" rx="15.3" ry="10.2" fill="url(#rg)" opacity="0.36"/><ellipse cx="367.5" cy="847.5" rx="28.8" ry="18.0" fill="url(#rg)" opacity="0.14"/><ellipse cx="367.5" cy="847.5" rx="13.6" ry="8.5" fill="url(#rg)" opacity="0.22"/><ellipse cx="370" cy="785" rx="28.8" ry="21.6" fill="url(#rg)" opacity="0.20"/><ellipse cx="370" cy="785" rx="13.6" ry="10.2" fill="url(#rg)" opacity="0.32"/><ellipse cx="352.5" cy="782.5" rx="25.2" ry="18.0" fill="url(#rg)" opacity="0.11"/><ellipse cx="352.5" cy="782.5" rx="11.9" ry="8.5" fill="url(#rg)" opacity="0.18"/><ellipse cx="387.5" cy="707.5" rx="28.8" ry="21.6" fill="url(#rg)" opacity="0.20"/><ellipse cx="387.5" cy="707.5" rx="13.6" ry="10.2" fill="url(#rg)" opacity="0.32"/><ellipse cx="505" cy="727.5" rx="25.2" ry="28.8" fill="url(#rg)" opacity="0.41"/><ellipse cx="505" cy="727.5" rx="11.9" ry="13.6" fill="url(#rg)" opacity="0.65"/><ellipse cx="455" cy="812.5" rx="36.0" ry="25.2" fill="url(#rg)" opacity="0.23"/><ellipse cx="455" cy="812.5" rx="17.0" ry="11.9" fill="url(#rg)" opacity="0.36"/><ellipse cx="470" cy="802.5" rx="25.2" ry="18.0" fill="url(#rg)" opacity="0.20"/><ellipse cx="470" cy="802.5" rx="11.9" ry="8.5" fill="url(#rg)" opacity="0.32"/><ellipse cx="420" cy="822.5" rx="25.2" ry="18.0" fill="url(#rg)" opacity="0.16"/><ellipse cx="420" cy="822.5" rx="11.9" ry="8.5" fill="url(#rg)" opacity="0.25"/><ellipse cx="410" cy="802.5" rx="25.2" ry="18.0" fill="url(#rg)" opacity="0.09"/><ellipse cx="410" cy="802.5" rx="11.9" ry="8.5" fill="url(#rg)" opacity="0.14"/><ellipse cx="510" cy="855" rx="25.2" ry="21.6" fill="url(#rg)" opacity="0.16"/><ellipse cx="510" cy="855" rx="11.9" ry="10.2" fill="url(#rg)" opacity="0.25"/><ellipse cx="292.5" cy="907.5" rx="28.8" ry="21.6" fill="url(#rg)" opacity="0.16"/><ellipse cx="292.5" cy="907.5" rx="13.6" ry="10.2" fill="url(#rg)" opacity="0.25"/><ellipse cx="335" cy="749" rx="25.2" ry="18.0" fill="url(#rg)" opacity="0.14"/><ellipse cx="335" cy="749" rx="11.9" ry="8.5" fill="url(#rg)" opacity="0.22"/><ellipse cx="347.5" cy="772.5" rx="21.6" ry="18.0" fill="url(#rg)" opacity="0.07"/><ellipse cx="347.5" cy="772.5" rx="10.2" ry="8.5" fill="url(#rg)" opacity="0.11"/><ellipse cx="350" cy="795" rx="25.2" ry="18.0" fill="url(#rg)" opacity="0.09"/><ellipse cx="350" cy="795" rx="11.9" ry="8.5" fill="url(#rg)" opacity="0.14"/><ellipse cx="380" cy="807.5" rx="25.2" ry="18.0" fill="url(#rg)" opacity="0.09"/><ellipse cx="380" cy="807.5" rx="11.9" ry="8.5" fill="url(#rg)" opacity="0.14"/><ellipse cx="377.5" cy="655" rx="25.2" ry="18.0" fill="url(#rg)" opacity="0.07"/><ellipse cx="377.5" cy="655" rx="11.9" ry="8.5" fill="url(#rg)" opacity="0.11"/><ellipse cx="490" cy="662.5" rx="25.2" ry="18.0" fill="url(#rg)" opacity="0.09"/><ellipse cx="490" cy="662.5" rx="11.9" ry="8.5" fill="url(#rg)" opacity="0.14"/><ellipse cx="430" cy="650" rx="25.2" ry="18.0" fill="url(#rg)" opacity="0.09"/><ellipse cx="430" cy="650" rx="11.9" ry="8.5" fill="url(#rg)" opacity="0.14"/><ellipse cx="280" cy="655" rx="25.2" ry="18.0" fill="url(#rg)" opacity="0.07"/><ellipse cx="280" cy="655" rx="11.9" ry="8.5" fill="url(#rg)" opacity="0.11"/><ellipse cx="342.5" cy="705" rx="25.2" ry="18.0" fill="url(#rg)" opacity="0.09"/><ellipse cx="342.5" cy="705" rx="11.9" ry="8.5" fill="url(#rg)" opacity="0.14"/><ellipse cx="490" cy="785" rx="25.2" ry="18.0" fill="url(#rg)" opacity="0.07"/><ellipse cx="490" cy="785" rx="11.9" ry="8.5" fill="url(#rg)" opacity="0.11"/><ellipse cx="365" cy="930" rx="25.2" ry="18.0" fill="url(#rg)" opacity="0.09"/><ellipse cx="365" cy="930" rx="11.9" ry="8.5" fill="url(#rg)" opacity="0.14"/><ellipse cx="460" cy="930" rx="25.2" ry="18.0" fill="url(#rg)" opacity="0.09"/><ellipse cx="460" cy="930" rx="11.9" ry="8.5" fill="url(#rg)" opacity="0.14"/><ellipse cx="497.5" cy="700" rx="25.2" ry="18.0" fill="url(#rg)" opacity="0.07"/><ellipse cx="497.5" cy="700" rx="11.9" ry="8.5" fill="url(#rg)" opacity="0.11"/><ellipse cx="465" cy="720" rx="25.2" ry="18.0" fill="url(#rg)" opacity="0.14"/><ellipse cx="465" cy="720" rx="11.9" ry="8.5" fill="url(#rg)" opacity="0.22"/><ellipse cx="441" cy="680" rx="25.2" ry="18.0" fill="url(#rg)" opacity="0.07"/><ellipse cx="441" cy="680" rx="11.9" ry="8.5" fill="url(#rg)" opacity="0.11"/><ellipse cx="275" cy="748.8" rx="25.2" ry="18.0" fill="url(#rg)" opacity="0.07"/><ellipse cx="275" cy="748.8" rx="11.9" ry="8.5" fill="url(#rg)" opacity="0.11"/><ellipse cx="380" cy="760" rx="90.0" ry="72.0" fill="url(#rg)" opacity="0.03"/><ellipse cx="380" cy="760" rx="42.5" ry="34.0" fill="url(#rg)" opacity="0.05"/><ellipse cx="350" cy="870" rx="72.0" ry="54.0" fill="url(#rg)" opacity="0.03"/><ellipse cx="350" cy="870" rx="34.0" ry="25.5" fill="url(#rg)" opacity="0.05"/><ellipse cx="460" cy="700" rx="72.0" ry="54.0" fill="url(#rg)" opacity="0.03"/><ellipse cx="460" cy="700" rx="34.0" ry="25.5" fill="url(#rg)" opacity="0.04"/><ellipse cx="420" cy="880" rx="72.0" ry="54.0" fill="url(#rg)" opacity="0.02"/><ellipse cx="420" cy="880" rx="34.0" ry="25.5" fill="url(#rg)" opacity="0.04"/><ellipse cx="328.8" cy="930" rx="25.2" ry="18.0" fill="url(#rg)" opacity="0.09"/><ellipse cx="328.8" cy="930" rx="11.9" ry="8.5" fill="url(#rg)" opacity="0.14"/><ellipse cx="415" cy="883.8" rx="25.2" ry="18.0" fill="url(#rg)" opacity="0.09"/><ellipse cx="415" cy="883.8" rx="11.9" ry="8.5" fill="url(#rg)" opacity="0.14"/><ellipse cx="471.2" cy="882.5" rx="25.2" ry="18.0" fill="url(#rg)" opacity="0.09"/><ellipse cx="471.2" cy="882.5" rx="11.9" ry="8.5" fill="url(#rg)" opacity="0.14"/><ellipse cx="445.8" cy="791.3" rx="21.6" ry="21.6" fill="url(#rg)" opacity="0.20"/><ellipse cx="445.8" cy="791.3" rx="10.2" ry="10.2" fill="url(#rg)" opacity="0.32"/></g>
<g><circle cx="35" cy="899" r="0.8" fill="#ddd"/><circle cx="90" cy="802" r="0.8" fill="#ddd"/><circle cx="56" cy="812" r="0.8" fill="#ddd"/><circle cx="51" cy="906" r="0.8" fill="#ddd"/><circle cx="124" cy="793" r="0.8" fill="#ddd"/><circle cx="129.7" cy="925" r="0.8" fill="#ddd"/><circle cx="199" cy="807" r="0.8" fill="#ddd"/><circle cx="331.2" cy="876.2" r="0.8" fill="#ddd"/><circle cx="298.8" cy="885" r="0.8" fill="#ddd"/><circle cx="282.5" cy="793.8" r="0.8" fill="#ddd"/><circle cx="363.8" cy="813.8" r="0.8" fill="#ddd"/></g>
<defs><linearGradient id="tb" x1="0" y1="0" x2="0" y2="1"><stop offset="0" stop-color="#8c96a2"/><stop offset="1" stop-color="#3a4048"/></linearGradient>
<linearGradient id="bb" x1="0" y1="0" x2="0" y2="1"><stop offset="0" stop-color="#4a5260"/><stop offset="1" stop-color="#8c96a8"/></linearGradient></defs>
<rect x="0" y="637" width="255.3" height="3" fill="url(#tb)"/><rect x="265" y="637" width="255" height="3" fill="url(#tb)"/>
<rect x="0" y="947.5" width="255.3" height="3.5" fill="url(#bb)"/><rect x="265" y="947.5" width="255" height="3.5" fill="url(#bb)"/>
<text x="161" y="718.3" font-family="Liberation Sans" font-size="22.5" fill="#f4f4f4">U7</text>
<text x="52.5" y="736.6" font-family="Liberation Sans" font-size="15.5" fill="#dadada" textLength="183" lengthAdjust="spacingAndGlyphs">Phosphoglycerate mutase 1</text>
<text x="429.8" y="729.9" font-family="Liberation Sans" font-size="23.2" fill="#f4f4f4">U7</text>
<text x="322.5" y="746.8" font-family="Liberation Sans" font-size="15.5" fill="#dadada" textLength="186" lengthAdjust="spacingAndGlyphs">Phosphoglycerate mutase 1</text>
<line x1="175.5" y1="742.6" x2="175.5" y2="763.5" stroke="#fff" stroke-width="1.5"/><path d="M172.5 758.5 L175.5 763.5 L178.5 758.5 L176.5 769.5 L174.5 769.5 Z" fill="#fff"/>
<line x1="445.8" y1="752.9" x2="445.8" y2="772.8" stroke="#fff" stroke-width="1.5"/><path d="M442.8 767.8 L445.8 772.8 L448.8 767.8 L446.8 778.8 L444.8 778.8 Z" fill="#fff"/>
<circle cx="174.9" cy="782" r="10.5" fill="none" stroke="#1c1c60" stroke-width="1.2"/><circle cx="174.9" cy="782" r="8.8" fill="none" stroke="#9898e4" stroke-width="2.6"/><circle cx="174.9" cy="782" r="8.8" fill="none" stroke="#e8e8ff" stroke-width="1" stroke-dasharray="1 1.5"/><circle cx="174.9" cy="782" r="7.1" fill="none" stroke="#1c1c60" stroke-width="1"/>
<circle cx="445.8" cy="791.3" r="10.5" fill="none" stroke="#1c1c60" stroke-width="1.2"/><circle cx="445.8" cy="791.3" r="8.8" fill="none" stroke="#9898e4" stroke-width="2.6"/><circle cx="445.8" cy="791.3" r="8.8" fill="none" stroke="#e8e8ff" stroke-width="1" stroke-dasharray="1 1.5"/><circle cx="445.8" cy="791.3" r="7.1" fill="none" stroke="#1c1c60" stroke-width="1"/>
</svg></body></html>
